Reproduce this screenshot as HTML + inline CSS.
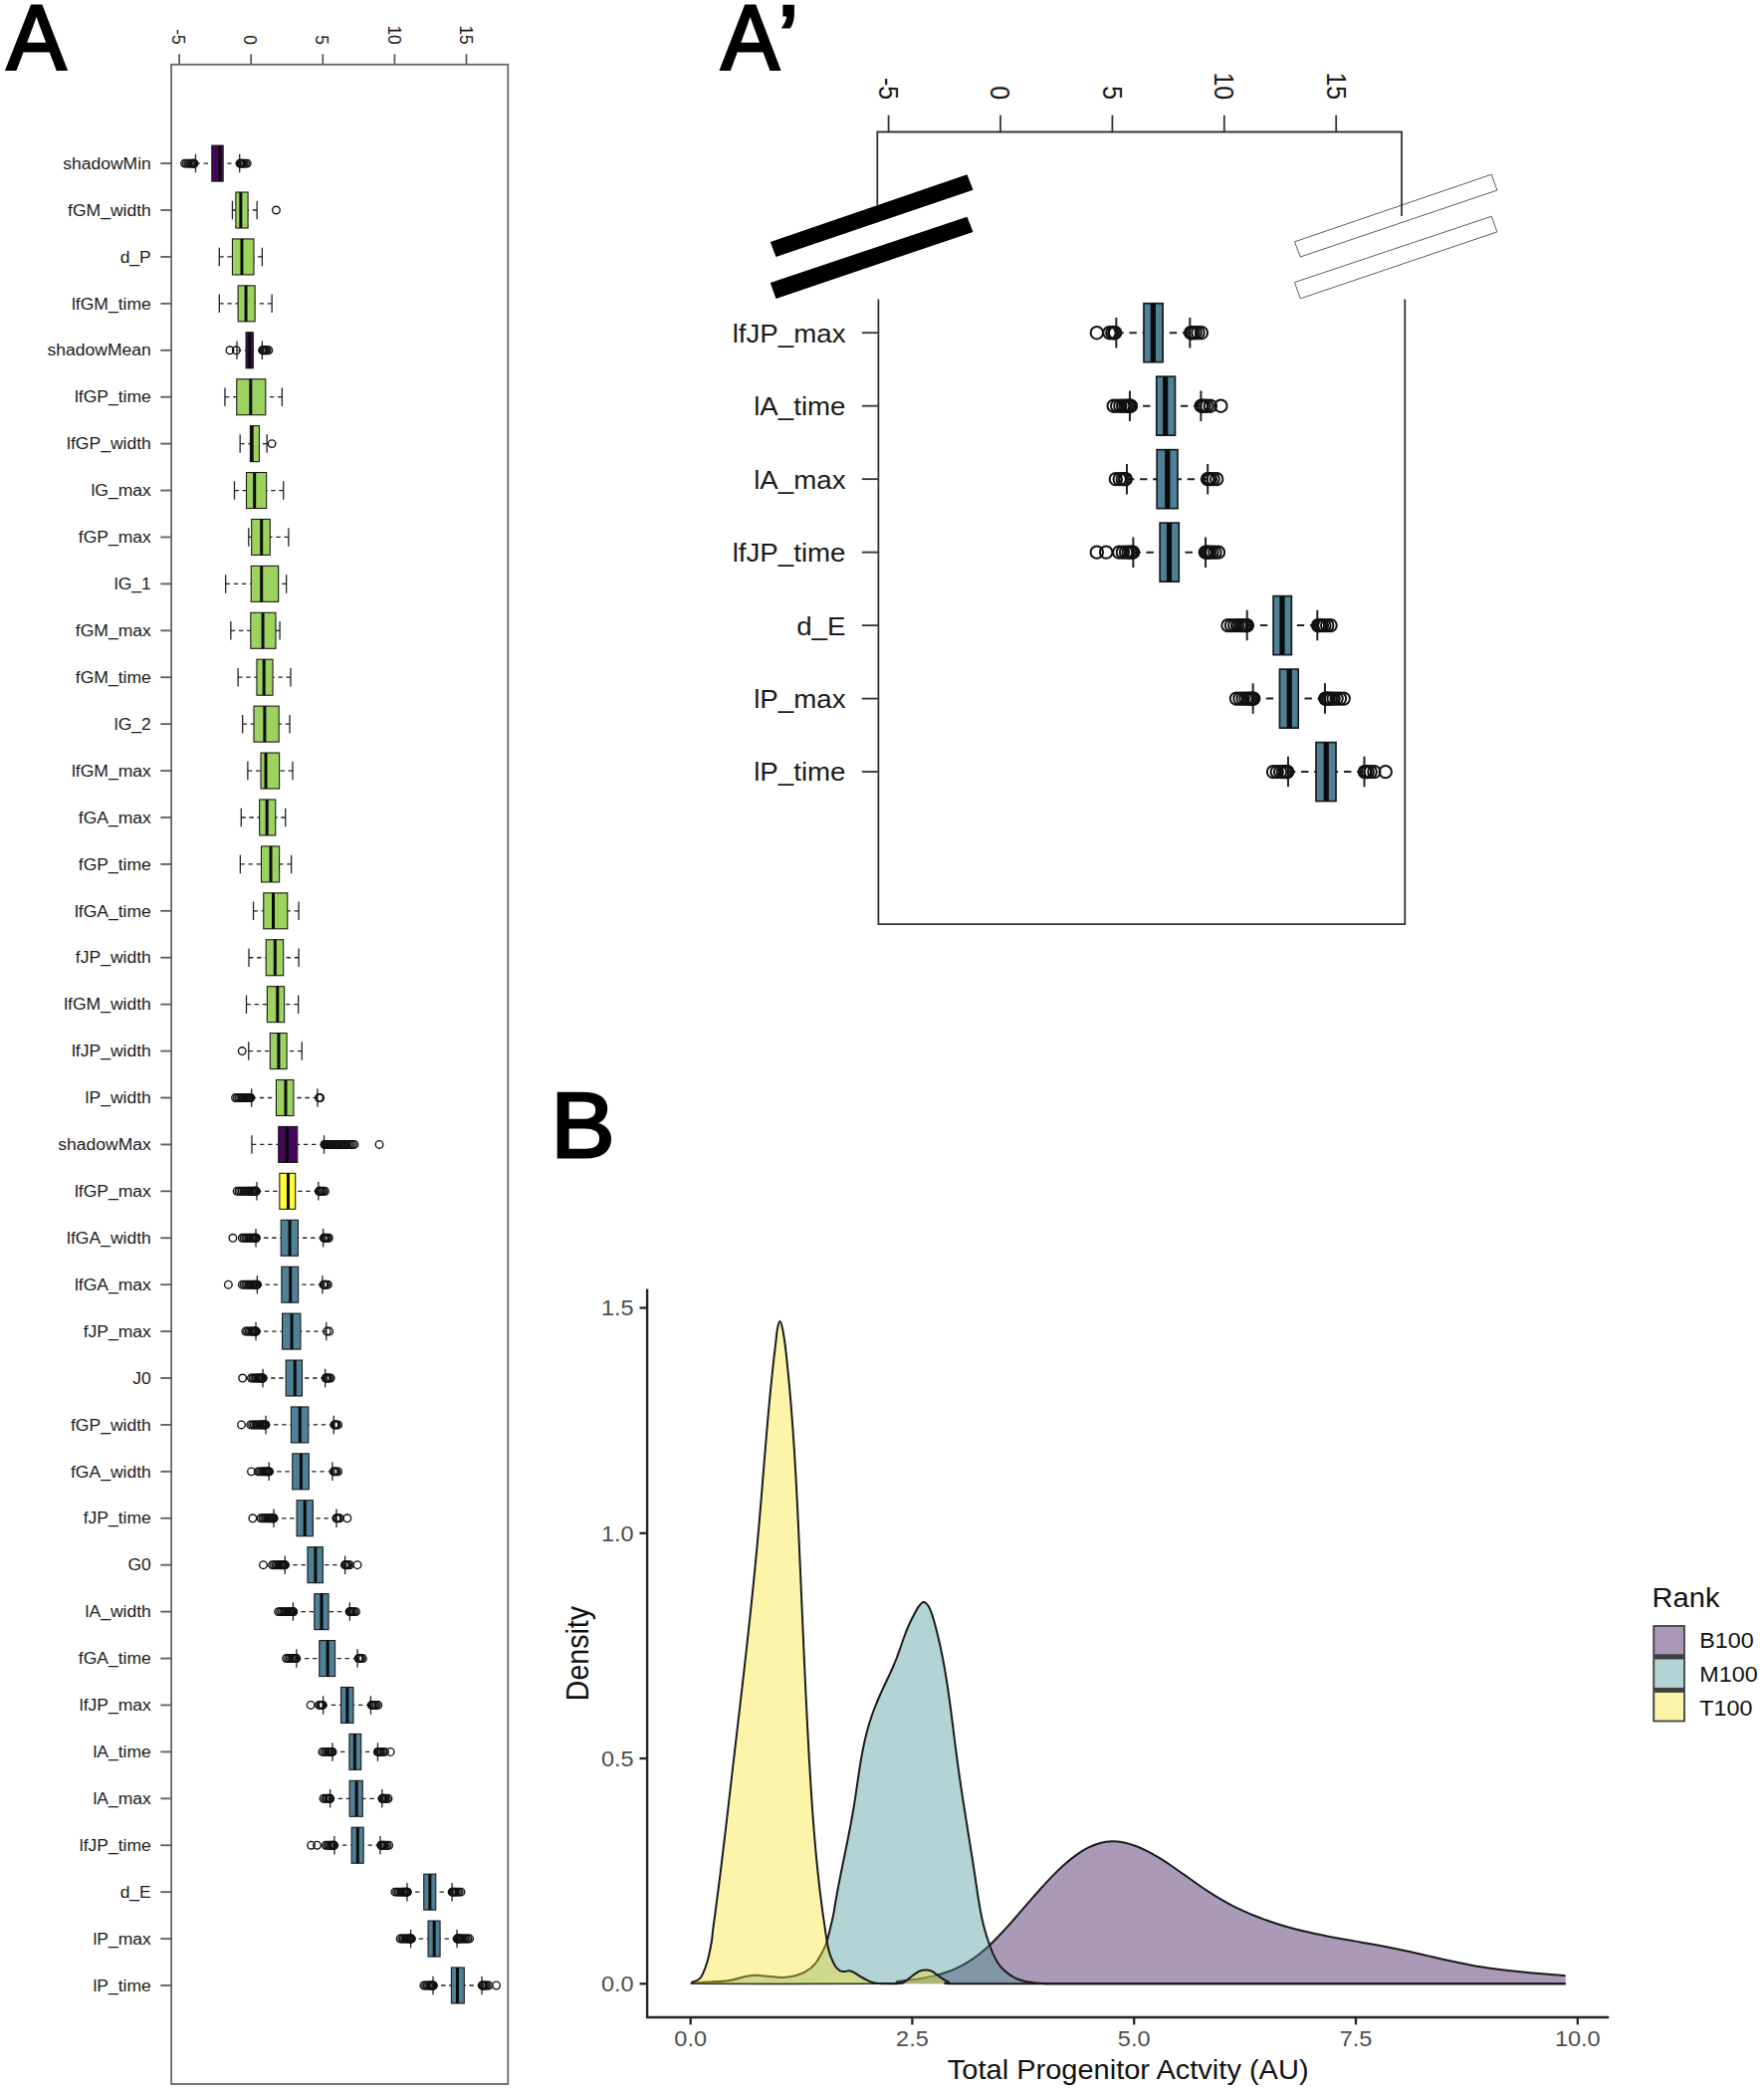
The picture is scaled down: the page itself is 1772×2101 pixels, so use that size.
<!DOCTYPE html>
<html lang="en">
<head>
<meta charset="utf-8">
<title>Figure</title>
<style>
html,body{margin:0;padding:0;background:#fff;}
body{width:1772px;height:2101px;overflow:hidden;}
svg{display:block;font-family:"Liberation Sans", sans-serif;}
</style>
</head>
<body>
<svg width="1772" height="2101" viewBox="0 0 1772 2101">
<rect width="1772" height="2101" fill="#fff"/>
<g id="panelA">
<rect x="172.1" y="64.8" width="338.2" height="2028.2" fill="none" stroke="#666" stroke-width="1.8"/>
<path d="M180.1 54.3V64.8" stroke="#5c5c5c" stroke-width="1.8"/>
<text transform="translate(173.2 44.8) rotate(90) scale(1 1.07)" text-anchor="end" font-size="17.4" fill="#1a1a1a">-5</text>
<path d="M252.2 54.3V64.8" stroke="#5c5c5c" stroke-width="1.8"/>
<text transform="translate(245.3 44.8) rotate(90) scale(1 1.07)" text-anchor="end" font-size="17.4" fill="#1a1a1a">0</text>
<path d="M324.3 54.3V64.8" stroke="#5c5c5c" stroke-width="1.8"/>
<text transform="translate(317.4 44.8) rotate(90) scale(1 1.07)" text-anchor="end" font-size="17.4" fill="#1a1a1a">5</text>
<path d="M396.4 54.3V64.8" stroke="#5c5c5c" stroke-width="1.8"/>
<text transform="translate(389.5 44.8) rotate(90) scale(1 1.07)" text-anchor="end" font-size="17.4" fill="#1a1a1a">10</text>
<path d="M468.5 54.3V64.8" stroke="#5c5c5c" stroke-width="1.8"/>
<text transform="translate(461.6 44.8) rotate(90) scale(1 1.07)" text-anchor="end" font-size="17.4" fill="#1a1a1a">15</text>
<path d="M161.3 164.1H172.1" stroke="#5c5c5c" stroke-width="1.8"/>
<text transform="translate(151.8 169.8) scale(1.124 1)" text-anchor="end" font-size="15.6" fill="#1a1a1a">shadowMin</text>
<path d="M196.49 164.1H212.81M240.7 164.1H224.15" stroke="#222" stroke-width="1.3" stroke-dasharray="4.4 3.7" fill="none"/><path d="M196.49 154.85V173.35M240.7 154.85V173.35" stroke="#222" stroke-width="1.3" fill="none"/><rect x="212.81" y="146.1" width="11.34" height="36" fill="#43065A" stroke="#1a1a1a" stroke-width="1.1"/><path d="M220.75 146.1V182.1" stroke="#0a0a0a" stroke-width="3" fill="none"/><g fill="none" stroke="#111" stroke-width="1.35"><circle cx="194.95" cy="164.1" r="3.8"/><circle cx="194.73" cy="164.1" r="3.8"/><circle cx="194.22" cy="164.1" r="3.8"/><circle cx="193.5" cy="164.1" r="3.8"/><circle cx="192.58" cy="164.1" r="3.8"/><circle cx="191.49" cy="164.1" r="3.8"/><circle cx="190.23" cy="164.1" r="3.8"/><circle cx="188.82" cy="164.1" r="3.8"/><circle cx="187.25" cy="164.1" r="3.8"/><circle cx="185.55" cy="164.1" r="3.8"/><circle cx="241.1" cy="164.1" r="3.8"/><circle cx="241.36" cy="164.1" r="3.8"/><circle cx="241.95" cy="164.1" r="3.8"/><circle cx="242.79" cy="164.1" r="3.8"/><circle cx="243.86" cy="164.1" r="3.8"/><circle cx="245.13" cy="164.1" r="3.8"/><circle cx="246.59" cy="164.1" r="3.8"/><circle cx="248.24" cy="164.1" r="3.8"/></g>
<path d="M161.3 211.02H172.1" stroke="#5c5c5c" stroke-width="1.8"/>
<text transform="translate(151.8 216.72) scale(1.124 1)" text-anchor="end" font-size="15.6" fill="#1a1a1a">fGM_width</text>
<path d="M233.45 211.02H236.85M258.16 211.02H249.09" stroke="#222" stroke-width="1.3" stroke-dasharray="4.4 3.7" fill="none"/><path d="M233.45 201.77V220.27M258.16 201.77V220.27" stroke="#222" stroke-width="1.3" fill="none"/><rect x="236.85" y="193.02" width="12.24" height="36" fill="#9CD25E" stroke="#1a1a1a" stroke-width="1.1"/><path d="M241.84 193.02V229.02" stroke="#0a0a0a" stroke-width="3" fill="none"/><g fill="none" stroke="#111" stroke-width="1.35"><circle cx="277.44" cy="211.02" r="3.8"/></g>
<path d="M161.3 257.94H172.1" stroke="#5c5c5c" stroke-width="1.8"/>
<text transform="translate(151.8 263.64) scale(1.124 1)" text-anchor="end" font-size="15.6" fill="#1a1a1a">d_P</text>
<path d="M220.29 257.94H233.45M263.38 257.94H254.99" stroke="#222" stroke-width="1.3" stroke-dasharray="4.4 3.7" fill="none"/><path d="M220.29 248.69V267.19M263.38 248.69V267.19" stroke="#222" stroke-width="1.3" fill="none"/><rect x="233.45" y="239.94" width="21.54" height="36" fill="#9CD25E" stroke="#1a1a1a" stroke-width="1.1"/><path d="M242.97 239.94V275.94" stroke="#0a0a0a" stroke-width="3" fill="none"/>
<path d="M161.3 304.86H172.1" stroke="#5c5c5c" stroke-width="1.8"/>
<text transform="translate(151.8 310.56) scale(1.124 1)" text-anchor="end" font-size="15.6" fill="#1a1a1a">lfGM_time</text>
<path d="M220.29 304.86H239.12M273.13 304.86H256.12" stroke="#222" stroke-width="1.3" stroke-dasharray="4.4 3.7" fill="none"/><path d="M220.29 295.61V314.11M273.13 295.61V314.11" stroke="#222" stroke-width="1.3" fill="none"/><rect x="239.12" y="286.86" width="17.01" height="36" fill="#9CD25E" stroke="#1a1a1a" stroke-width="1.1"/><path d="M247.05 286.86V322.86" stroke="#0a0a0a" stroke-width="3" fill="none"/>
<path d="M161.3 351.78H172.1" stroke="#5c5c5c" stroke-width="1.8"/>
<text transform="translate(151.8 357.48) scale(1.124 1)" text-anchor="end" font-size="15.6" fill="#1a1a1a">shadowMean</text>
<path d="M237.98 351.78H247.05M263.38 351.78H254.31" stroke="#222" stroke-width="1.3" stroke-dasharray="4.4 3.7" fill="none"/><path d="M237.98 342.53V361.03M263.38 342.53V361.03" stroke="#222" stroke-width="1.3" fill="none"/><rect x="247.05" y="333.78" width="7.26" height="36" fill="#43065A" stroke="#1a1a1a" stroke-width="1.1"/><path d="M250.68 333.78V369.78" stroke="#0a0a0a" stroke-width="3" fill="none"/><g fill="none" stroke="#111" stroke-width="1.35"><circle cx="263.78" cy="351.78" r="3.8"/><circle cx="264.06" cy="351.78" r="3.8"/><circle cx="264.71" cy="351.78" r="3.8"/><circle cx="265.63" cy="351.78" r="3.8"/><circle cx="266.79" cy="351.78" r="3.8"/><circle cx="268.18" cy="351.78" r="3.8"/><circle cx="269.78" cy="351.78" r="3.8"/><circle cx="230.95" cy="351.78" r="3.8"/><circle cx="237.3" cy="351.78" r="3.8"/></g>
<path d="M161.3 398.7H172.1" stroke="#5c5c5c" stroke-width="1.8"/>
<text transform="translate(151.8 404.4) scale(1.124 1)" text-anchor="end" font-size="15.6" fill="#1a1a1a">lfGP_time</text>
<path d="M225.96 398.7H237.76M283.33 398.7H266.78" stroke="#222" stroke-width="1.3" stroke-dasharray="4.4 3.7" fill="none"/><path d="M225.96 389.45V407.95M283.33 389.45V407.95" stroke="#222" stroke-width="1.3" fill="none"/><rect x="237.76" y="380.7" width="29.02" height="36" fill="#9CD25E" stroke="#1a1a1a" stroke-width="1.1"/><path d="M251.81 380.7V416.7" stroke="#0a0a0a" stroke-width="3" fill="none"/>
<path d="M161.3 445.62H172.1" stroke="#5c5c5c" stroke-width="1.8"/>
<text transform="translate(151.8 451.32) scale(1.124 1)" text-anchor="end" font-size="15.6" fill="#1a1a1a">lfGP_width</text>
<path d="M241.16 445.62H251.36M268.14 445.62H260.43" stroke="#222" stroke-width="1.3" stroke-dasharray="4.4 3.7" fill="none"/><path d="M241.16 436.37V454.87M268.14 436.37V454.87" stroke="#222" stroke-width="1.3" fill="none"/><rect x="251.36" y="427.62" width="9.07" height="36" fill="#9CD25E" stroke="#1a1a1a" stroke-width="1.1"/><path d="M253.17 427.62V463.62" stroke="#0a0a0a" stroke-width="3" fill="none"/><g fill="none" stroke="#111" stroke-width="1.35"><circle cx="273.13" cy="445.62" r="3.8"/></g>
<path d="M161.3 492.54H172.1" stroke="#5c5c5c" stroke-width="1.8"/>
<text transform="translate(151.8 498.24) scale(1.124 1)" text-anchor="end" font-size="15.6" fill="#1a1a1a">lG_max</text>
<path d="M235.49 492.54H247.51M284.69 492.54H267.69" stroke="#222" stroke-width="1.3" stroke-dasharray="4.4 3.7" fill="none"/><path d="M235.49 483.29V501.79M284.69 483.29V501.79" stroke="#222" stroke-width="1.3" fill="none"/><rect x="247.51" y="474.54" width="20.18" height="36" fill="#9CD25E" stroke="#1a1a1a" stroke-width="1.1"/><path d="M255.67 474.54V510.54" stroke="#0a0a0a" stroke-width="3" fill="none"/>
<path d="M161.3 539.46H172.1" stroke="#5c5c5c" stroke-width="1.8"/>
<text transform="translate(151.8 545.16) scale(1.124 1)" text-anchor="end" font-size="15.6" fill="#1a1a1a">fGP_max</text>
<path d="M249.77 539.46H252.72M289.91 539.46H271.32" stroke="#222" stroke-width="1.3" stroke-dasharray="4.4 3.7" fill="none"/><path d="M249.77 530.21V548.71M289.91 530.21V548.71" stroke="#222" stroke-width="1.3" fill="none"/><rect x="252.72" y="521.46" width="18.59" height="36" fill="#9CD25E" stroke="#1a1a1a" stroke-width="1.1"/><path d="M262.7 521.46V557.46" stroke="#0a0a0a" stroke-width="3" fill="none"/>
<path d="M161.3 586.38H172.1" stroke="#5c5c5c" stroke-width="1.8"/>
<text transform="translate(151.8 592.08) scale(1.124 1)" text-anchor="end" font-size="15.6" fill="#1a1a1a">lG_1</text>
<path d="M226.64 586.38H252.27M287.64 586.38H279.71" stroke="#222" stroke-width="1.3" stroke-dasharray="4.4 3.7" fill="none"/><path d="M226.64 577.13V595.63M287.64 577.13V595.63" stroke="#222" stroke-width="1.3" fill="none"/><rect x="252.27" y="568.38" width="27.44" height="36" fill="#9CD25E" stroke="#1a1a1a" stroke-width="1.1"/><path d="M262.7 568.38V604.38" stroke="#0a0a0a" stroke-width="3" fill="none"/>
<path d="M161.3 633.3H172.1" stroke="#5c5c5c" stroke-width="1.8"/>
<text transform="translate(151.8 639) scale(1.124 1)" text-anchor="end" font-size="15.6" fill="#1a1a1a">fGM_max</text>
<path d="M231.86 633.3H251.81M281.07 633.3H276.98" stroke="#222" stroke-width="1.3" stroke-dasharray="4.4 3.7" fill="none"/><path d="M231.86 624.05V642.55M281.07 624.05V642.55" stroke="#222" stroke-width="1.3" fill="none"/><rect x="251.81" y="615.3" width="25.17" height="36" fill="#9CD25E" stroke="#1a1a1a" stroke-width="1.1"/><path d="M264.06 615.3V651.3" stroke="#0a0a0a" stroke-width="3" fill="none"/>
<path d="M161.3 680.22H172.1" stroke="#5c5c5c" stroke-width="1.8"/>
<text transform="translate(151.8 685.92) scale(1.124 1)" text-anchor="end" font-size="15.6" fill="#1a1a1a">fGM_time</text>
<path d="M239.12 680.22H257.94M291.95 680.22H274.04" stroke="#222" stroke-width="1.3" stroke-dasharray="4.4 3.7" fill="none"/><path d="M239.12 670.97V689.47M291.95 670.97V689.47" stroke="#222" stroke-width="1.3" fill="none"/><rect x="257.94" y="662.22" width="16.1" height="36" fill="#9CD25E" stroke="#1a1a1a" stroke-width="1.1"/><path d="M265.19 662.22V698.22" stroke="#0a0a0a" stroke-width="3" fill="none"/>
<path d="M161.3 727.14H172.1" stroke="#5c5c5c" stroke-width="1.8"/>
<text transform="translate(151.8 732.84) scale(1.124 1)" text-anchor="end" font-size="15.6" fill="#1a1a1a">lG_2</text>
<path d="M243.65 727.14H254.99M291.04 727.14H280.16" stroke="#222" stroke-width="1.3" stroke-dasharray="4.4 3.7" fill="none"/><path d="M243.65 717.89V736.39M291.04 717.89V736.39" stroke="#222" stroke-width="1.3" fill="none"/><rect x="254.99" y="709.14" width="25.17" height="36" fill="#9CD25E" stroke="#1a1a1a" stroke-width="1.1"/><path d="M265.87 709.14V745.14" stroke="#0a0a0a" stroke-width="3" fill="none"/>
<path d="M161.3 774.06H172.1" stroke="#5c5c5c" stroke-width="1.8"/>
<text transform="translate(151.8 779.76) scale(1.124 1)" text-anchor="end" font-size="15.6" fill="#1a1a1a">lfGM_max</text>
<path d="M248.87 774.06H262.02M293.99 774.06H280.61" stroke="#222" stroke-width="1.3" stroke-dasharray="4.4 3.7" fill="none"/><path d="M248.87 764.81V783.31M293.99 764.81V783.31" stroke="#222" stroke-width="1.3" fill="none"/><rect x="262.02" y="756.06" width="18.59" height="36" fill="#9CD25E" stroke="#1a1a1a" stroke-width="1.1"/><path d="M267.01 756.06V792.06" stroke="#0a0a0a" stroke-width="3" fill="none"/>
<path d="M161.3 820.98H172.1" stroke="#5c5c5c" stroke-width="1.8"/>
<text transform="translate(151.8 826.68) scale(1.124 1)" text-anchor="end" font-size="15.6" fill="#1a1a1a">fGA_max</text>
<path d="M242.29 820.98H260.66M286.73 820.98H276.76" stroke="#222" stroke-width="1.3" stroke-dasharray="4.4 3.7" fill="none"/><path d="M242.29 811.73V830.23M286.73 811.73V830.23" stroke="#222" stroke-width="1.3" fill="none"/><rect x="260.66" y="802.98" width="16.1" height="36" fill="#9CD25E" stroke="#1a1a1a" stroke-width="1.1"/><path d="M268.14 802.98V838.98" stroke="#0a0a0a" stroke-width="3" fill="none"/>
<path d="M161.3 867.9H172.1" stroke="#5c5c5c" stroke-width="1.8"/>
<text transform="translate(151.8 873.6) scale(1.124 1)" text-anchor="end" font-size="15.6" fill="#1a1a1a">fGP_time</text>
<path d="M241.38 867.9H262.47M292.63 867.9H280.61" stroke="#222" stroke-width="1.3" stroke-dasharray="4.4 3.7" fill="none"/><path d="M241.38 858.65V877.15M292.63 858.65V877.15" stroke="#222" stroke-width="1.3" fill="none"/><rect x="262.47" y="849.9" width="18.14" height="36" fill="#9CD25E" stroke="#1a1a1a" stroke-width="1.1"/><path d="M272 849.9V885.9" stroke="#0a0a0a" stroke-width="3" fill="none"/>
<path d="M161.3 914.82H172.1" stroke="#5c5c5c" stroke-width="1.8"/>
<text transform="translate(151.8 920.52) scale(1.124 1)" text-anchor="end" font-size="15.6" fill="#1a1a1a">lfGA_time</text>
<path d="M254.54 914.82H264.74M300.11 914.82H288.78" stroke="#222" stroke-width="1.3" stroke-dasharray="4.4 3.7" fill="none"/><path d="M254.54 905.57V924.07M300.11 905.57V924.07" stroke="#222" stroke-width="1.3" fill="none"/><rect x="264.74" y="896.82" width="24.04" height="36" fill="#9CD25E" stroke="#1a1a1a" stroke-width="1.1"/><path d="M274.49 896.82V932.82" stroke="#0a0a0a" stroke-width="3" fill="none"/>
<path d="M161.3 961.74H172.1" stroke="#5c5c5c" stroke-width="1.8"/>
<text transform="translate(151.8 967.44) scale(1.124 1)" text-anchor="end" font-size="15.6" fill="#1a1a1a">fJP_width</text>
<path d="M250 961.74H267.23M300.11 961.74H284.69" stroke="#222" stroke-width="1.3" stroke-dasharray="4.4 3.7" fill="none"/><path d="M250 952.49V970.99M300.11 952.49V970.99" stroke="#222" stroke-width="1.3" fill="none"/><rect x="267.23" y="943.74" width="17.46" height="36" fill="#9CD25E" stroke="#1a1a1a" stroke-width="1.1"/><path d="M276.3 943.74V979.74" stroke="#0a0a0a" stroke-width="3" fill="none"/>
<path d="M161.3 1008.66H172.1" stroke="#5c5c5c" stroke-width="1.8"/>
<text transform="translate(151.8 1014.36) scale(1.124 1)" text-anchor="end" font-size="15.6" fill="#1a1a1a">lfGM_width</text>
<path d="M247.51 1008.66H268.37M299.66 1008.66H285.6" stroke="#222" stroke-width="1.3" stroke-dasharray="4.4 3.7" fill="none"/><path d="M247.51 999.41V1017.91M299.66 999.41V1017.91" stroke="#222" stroke-width="1.3" fill="none"/><rect x="268.37" y="990.66" width="17.23" height="36" fill="#9CD25E" stroke="#1a1a1a" stroke-width="1.1"/><path d="M278.8 990.66V1026.66" stroke="#0a0a0a" stroke-width="3" fill="none"/>
<path d="M161.3 1055.58H172.1" stroke="#5c5c5c" stroke-width="1.8"/>
<text transform="translate(151.8 1061.28) scale(1.124 1)" text-anchor="end" font-size="15.6" fill="#1a1a1a">lfJP_width</text>
<path d="M249.77 1055.58H271.32M303.29 1055.58H288.1" stroke="#222" stroke-width="1.3" stroke-dasharray="4.4 3.7" fill="none"/><path d="M249.77 1046.33V1064.83M303.29 1046.33V1064.83" stroke="#222" stroke-width="1.3" fill="none"/><rect x="271.32" y="1037.58" width="16.78" height="36" fill="#9CD25E" stroke="#1a1a1a" stroke-width="1.1"/><path d="M279.93 1037.58V1073.58" stroke="#0a0a0a" stroke-width="3" fill="none"/><g fill="none" stroke="#111" stroke-width="1.35"><circle cx="243.2" cy="1055.58" r="3.8"/></g>
<path d="M161.3 1102.5H172.1" stroke="#5c5c5c" stroke-width="1.8"/>
<text transform="translate(151.8 1108.2) scale(1.124 1)" text-anchor="end" font-size="15.6" fill="#1a1a1a">lP_width</text>
<path d="M252.72 1102.5H277.44M318.93 1102.5H294.9" stroke="#222" stroke-width="1.3" stroke-dasharray="4.4 3.7" fill="none"/><path d="M252.72 1093.25V1111.75M318.93 1093.25V1111.75" stroke="#222" stroke-width="1.3" fill="none"/><rect x="277.44" y="1084.5" width="17.46" height="36" fill="#9CD25E" stroke="#1a1a1a" stroke-width="1.1"/><path d="M286.96 1084.5V1120.5" stroke="#0a0a0a" stroke-width="3" fill="none"/><g fill="none" stroke="#111" stroke-width="1.35"><circle cx="251.64" cy="1102.5" r="3.8"/><circle cx="251.47" cy="1102.5" r="3.8"/><circle cx="251.09" cy="1102.5" r="3.8"/><circle cx="250.54" cy="1102.5" r="3.8"/><circle cx="249.85" cy="1102.5" r="3.8"/><circle cx="249.02" cy="1102.5" r="3.8"/><circle cx="248.07" cy="1102.5" r="3.8"/><circle cx="247" cy="1102.5" r="3.8"/><circle cx="245.82" cy="1102.5" r="3.8"/><circle cx="244.53" cy="1102.5" r="3.8"/><circle cx="243.13" cy="1102.5" r="3.8"/><circle cx="241.64" cy="1102.5" r="3.8"/><circle cx="240.04" cy="1102.5" r="3.8"/><circle cx="238.35" cy="1102.5" r="3.8"/><circle cx="236.57" cy="1102.5" r="3.8"/><circle cx="320.52" cy="1102.5" r="3.8"/><circle cx="321.66" cy="1102.5" r="3.8"/></g>
<path d="M161.3 1149.42H172.1" stroke="#5c5c5c" stroke-width="1.8"/>
<text transform="translate(151.8 1155.12) scale(1.124 1)" text-anchor="end" font-size="15.6" fill="#1a1a1a">shadowMax</text>
<path d="M252.95 1149.42H279.71M325.51 1149.42H298.75" stroke="#222" stroke-width="1.3" stroke-dasharray="4.4 3.7" fill="none"/><path d="M252.95 1140.17V1158.67M325.51 1140.17V1158.67" stroke="#222" stroke-width="1.3" fill="none"/><rect x="279.71" y="1131.42" width="19.05" height="36" fill="#43065A" stroke="#1a1a1a" stroke-width="1.1"/><path d="M288.32 1131.42V1167.42" stroke="#0a0a0a" stroke-width="3" fill="none"/><g fill="none" stroke="#111" stroke-width="1.35"><circle cx="326.14" cy="1149.42" r="3.8"/><circle cx="326.24" cy="1149.42" r="3.8"/><circle cx="326.47" cy="1149.42" r="3.8"/><circle cx="326.8" cy="1149.42" r="3.8"/><circle cx="327.23" cy="1149.42" r="3.8"/><circle cx="327.73" cy="1149.42" r="3.8"/><circle cx="328.31" cy="1149.42" r="3.8"/><circle cx="328.96" cy="1149.42" r="3.8"/><circle cx="329.68" cy="1149.42" r="3.8"/><circle cx="330.47" cy="1149.42" r="3.8"/><circle cx="331.31" cy="1149.42" r="3.8"/><circle cx="332.23" cy="1149.42" r="3.8"/><circle cx="333.2" cy="1149.42" r="3.8"/><circle cx="334.23" cy="1149.42" r="3.8"/><circle cx="335.31" cy="1149.42" r="3.8"/><circle cx="336.45" cy="1149.42" r="3.8"/><circle cx="337.65" cy="1149.42" r="3.8"/><circle cx="338.9" cy="1149.42" r="3.8"/><circle cx="340.2" cy="1149.42" r="3.8"/><circle cx="341.56" cy="1149.42" r="3.8"/><circle cx="342.96" cy="1149.42" r="3.8"/><circle cx="344.42" cy="1149.42" r="3.8"/><circle cx="345.92" cy="1149.42" r="3.8"/><circle cx="347.48" cy="1149.42" r="3.8"/><circle cx="349.08" cy="1149.42" r="3.8"/><circle cx="350.73" cy="1149.42" r="3.8"/><circle cx="352.42" cy="1149.42" r="3.8"/><circle cx="354.16" cy="1149.42" r="3.8"/><circle cx="355.95" cy="1149.42" r="3.8"/><circle cx="381.07" cy="1149.42" r="3.8"/></g>
<path d="M161.3 1196.34H172.1" stroke="#5c5c5c" stroke-width="1.8"/>
<text transform="translate(151.8 1202.04) scale(1.124 1)" text-anchor="end" font-size="15.6" fill="#1a1a1a">lfGP_max</text>
<path d="M257.94 1196.34H280.84M319.84 1196.34H296.71" stroke="#222" stroke-width="1.3" stroke-dasharray="4.4 3.7" fill="none"/><path d="M257.94 1187.09V1205.59M319.84 1187.09V1205.59" stroke="#222" stroke-width="1.3" fill="none"/><rect x="280.84" y="1178.34" width="15.87" height="36" fill="#FEFE3D" stroke="#1a1a1a" stroke-width="1.1"/><path d="M289.46 1178.34V1214.34" stroke="#0a0a0a" stroke-width="3" fill="none"/><g fill="none" stroke="#111" stroke-width="1.35"><circle cx="257.31" cy="1196.34" r="3.8"/><circle cx="257.17" cy="1196.34" r="3.8"/><circle cx="256.85" cy="1196.34" r="3.8"/><circle cx="256.4" cy="1196.34" r="3.8"/><circle cx="255.83" cy="1196.34" r="3.8"/><circle cx="255.14" cy="1196.34" r="3.8"/><circle cx="254.35" cy="1196.34" r="3.8"/><circle cx="253.46" cy="1196.34" r="3.8"/><circle cx="252.48" cy="1196.34" r="3.8"/><circle cx="251.41" cy="1196.34" r="3.8"/><circle cx="250.26" cy="1196.34" r="3.8"/><circle cx="249.02" cy="1196.34" r="3.8"/><circle cx="247.7" cy="1196.34" r="3.8"/><circle cx="246.29" cy="1196.34" r="3.8"/><circle cx="244.81" cy="1196.34" r="3.8"/><circle cx="243.26" cy="1196.34" r="3.8"/><circle cx="241.63" cy="1196.34" r="3.8"/><circle cx="239.93" cy="1196.34" r="3.8"/><circle cx="238.15" cy="1196.34" r="3.8"/><circle cx="320.47" cy="1196.34" r="3.8"/><circle cx="320.75" cy="1196.34" r="3.8"/><circle cx="321.39" cy="1196.34" r="3.8"/><circle cx="322.32" cy="1196.34" r="3.8"/><circle cx="323.48" cy="1196.34" r="3.8"/><circle cx="324.87" cy="1196.34" r="3.8"/><circle cx="326.47" cy="1196.34" r="3.8"/></g>
<path d="M161.3 1243.26H172.1" stroke="#5c5c5c" stroke-width="1.8"/>
<text transform="translate(151.8 1248.96) scale(1.124 1)" text-anchor="end" font-size="15.6" fill="#1a1a1a">lfGA_width</text>
<path d="M257.03 1243.26H282.2M324.6 1243.26H299.43" stroke="#222" stroke-width="1.3" stroke-dasharray="4.4 3.7" fill="none"/><path d="M257.03 1234.01V1252.51M324.6 1234.01V1252.51" stroke="#222" stroke-width="1.3" fill="none"/><rect x="282.2" y="1225.26" width="17.23" height="36" fill="#4E8097" stroke="#1a1a1a" stroke-width="1.1"/><path d="M291.04 1225.26V1261.26" stroke="#0a0a0a" stroke-width="3" fill="none"/><g fill="none" stroke="#111" stroke-width="1.35"><circle cx="257.31" cy="1243.26" r="3.8"/><circle cx="257.13" cy="1243.26" r="3.8"/><circle cx="256.73" cy="1243.26" r="3.8"/><circle cx="256.16" cy="1243.26" r="3.8"/><circle cx="255.43" cy="1243.26" r="3.8"/><circle cx="254.56" cy="1243.26" r="3.8"/><circle cx="253.57" cy="1243.26" r="3.8"/><circle cx="252.44" cy="1243.26" r="3.8"/><circle cx="251.2" cy="1243.26" r="3.8"/><circle cx="249.85" cy="1243.26" r="3.8"/><circle cx="248.39" cy="1243.26" r="3.8"/><circle cx="246.82" cy="1243.26" r="3.8"/><circle cx="245.14" cy="1243.26" r="3.8"/><circle cx="243.37" cy="1243.26" r="3.8"/><circle cx="325.46" cy="1243.26" r="3.8"/><circle cx="325.77" cy="1243.26" r="3.8"/><circle cx="326.48" cy="1243.26" r="3.8"/><circle cx="327.5" cy="1243.26" r="3.8"/><circle cx="328.79" cy="1243.26" r="3.8"/><circle cx="330.33" cy="1243.26" r="3.8"/><circle cx="233.9" cy="1243.26" r="3.8"/></g>
<path d="M161.3 1290.18H172.1" stroke="#5c5c5c" stroke-width="1.8"/>
<text transform="translate(151.8 1295.88) scale(1.124 1)" text-anchor="end" font-size="15.6" fill="#1a1a1a">lfGA_max</text>
<path d="M258.39 1290.18H282.88M323.92 1290.18H299.66" stroke="#222" stroke-width="1.3" stroke-dasharray="4.4 3.7" fill="none"/><path d="M258.39 1280.93V1299.43M323.92 1280.93V1299.43" stroke="#222" stroke-width="1.3" fill="none"/><rect x="282.88" y="1272.18" width="16.78" height="36" fill="#4E8097" stroke="#1a1a1a" stroke-width="1.1"/><path d="M291.72 1272.18V1308.18" stroke="#0a0a0a" stroke-width="3" fill="none"/><g fill="none" stroke="#111" stroke-width="1.35"><circle cx="258.44" cy="1290.18" r="3.8"/><circle cx="258.28" cy="1290.18" r="3.8"/><circle cx="257.89" cy="1290.18" r="3.8"/><circle cx="257.35" cy="1290.18" r="3.8"/><circle cx="256.65" cy="1290.18" r="3.8"/><circle cx="255.83" cy="1290.18" r="3.8"/><circle cx="254.87" cy="1290.18" r="3.8"/><circle cx="253.8" cy="1290.18" r="3.8"/><circle cx="252.62" cy="1290.18" r="3.8"/><circle cx="251.33" cy="1290.18" r="3.8"/><circle cx="249.94" cy="1290.18" r="3.8"/><circle cx="248.44" cy="1290.18" r="3.8"/><circle cx="246.84" cy="1290.18" r="3.8"/><circle cx="245.15" cy="1290.18" r="3.8"/><circle cx="243.37" cy="1290.18" r="3.8"/><circle cx="325" cy="1290.18" r="3.8"/><circle cx="325.42" cy="1290.18" r="3.8"/><circle cx="326.36" cy="1290.18" r="3.8"/><circle cx="327.71" cy="1290.18" r="3.8"/><circle cx="329.42" cy="1290.18" r="3.8"/><circle cx="229.37" cy="1290.18" r="3.8"/></g>
<path d="M161.3 1337.1H172.1" stroke="#5c5c5c" stroke-width="1.8"/>
<text transform="translate(151.8 1342.8) scale(1.124 1)" text-anchor="end" font-size="15.6" fill="#1a1a1a">fJP_max</text>
<path d="M257.03 1337.1H283.56M327.78 1337.1H301.93" stroke="#222" stroke-width="1.3" stroke-dasharray="4.4 3.7" fill="none"/><path d="M257.03 1327.85V1346.35M327.78 1327.85V1346.35" stroke="#222" stroke-width="1.3" fill="none"/><rect x="283.56" y="1319.1" width="18.37" height="36" fill="#4E8097" stroke="#1a1a1a" stroke-width="1.1"/><path d="M293.08 1319.1V1355.1" stroke="#0a0a0a" stroke-width="3" fill="none"/><g fill="none" stroke="#111" stroke-width="1.35"><circle cx="257.31" cy="1337.1" r="3.8"/><circle cx="257.1" cy="1337.1" r="3.8"/><circle cx="256.63" cy="1337.1" r="3.8"/><circle cx="255.95" cy="1337.1" r="3.8"/><circle cx="255.09" cy="1337.1" r="3.8"/><circle cx="254.07" cy="1337.1" r="3.8"/><circle cx="252.89" cy="1337.1" r="3.8"/><circle cx="251.56" cy="1337.1" r="3.8"/><circle cx="250.1" cy="1337.1" r="3.8"/><circle cx="248.5" cy="1337.1" r="3.8"/><circle cx="246.77" cy="1337.1" r="3.8"/><circle cx="328.46" cy="1337.1" r="3.8"/><circle cx="330.73" cy="1337.1" r="3.8"/></g>
<path d="M161.3 1384.02H172.1" stroke="#5c5c5c" stroke-width="1.8"/>
<text transform="translate(151.8 1389.72) scale(1.124 1)" text-anchor="end" font-size="15.6" fill="#1a1a1a">J0</text>
<path d="M264.06 1384.02H287.19M326.64 1384.02H303.51" stroke="#222" stroke-width="1.3" stroke-dasharray="4.4 3.7" fill="none"/><path d="M264.06 1374.77V1393.27M326.64 1374.77V1393.27" stroke="#222" stroke-width="1.3" fill="none"/><rect x="287.19" y="1366.02" width="16.33" height="36" fill="#4E8097" stroke="#1a1a1a" stroke-width="1.1"/><path d="M296.26 1366.02V1402.02" stroke="#0a0a0a" stroke-width="3" fill="none"/><g fill="none" stroke="#111" stroke-width="1.35"><circle cx="264.11" cy="1384.02" r="3.8"/><circle cx="263.92" cy="1384.02" r="3.8"/><circle cx="263.47" cy="1384.02" r="3.8"/><circle cx="262.83" cy="1384.02" r="3.8"/><circle cx="262.02" cy="1384.02" r="3.8"/><circle cx="261.06" cy="1384.02" r="3.8"/><circle cx="259.95" cy="1384.02" r="3.8"/><circle cx="258.7" cy="1384.02" r="3.8"/><circle cx="257.32" cy="1384.02" r="3.8"/><circle cx="255.81" cy="1384.02" r="3.8"/><circle cx="254.19" cy="1384.02" r="3.8"/><circle cx="252.44" cy="1384.02" r="3.8"/><circle cx="327.27" cy="1384.02" r="3.8"/><circle cx="327.59" cy="1384.02" r="3.8"/><circle cx="328.3" cy="1384.02" r="3.8"/><circle cx="329.31" cy="1384.02" r="3.8"/><circle cx="330.6" cy="1384.02" r="3.8"/><circle cx="332.14" cy="1384.02" r="3.8"/><circle cx="243.65" cy="1384.02" r="3.8"/></g>
<path d="M161.3 1430.94H172.1" stroke="#5c5c5c" stroke-width="1.8"/>
<text transform="translate(151.8 1436.64) scale(1.124 1)" text-anchor="end" font-size="15.6" fill="#1a1a1a">fGP_width</text>
<path d="M267.01 1430.94H292.4M335.26 1430.94H309.86" stroke="#222" stroke-width="1.3" stroke-dasharray="4.4 3.7" fill="none"/><path d="M267.01 1421.69V1440.19M335.26 1421.69V1440.19" stroke="#222" stroke-width="1.3" fill="none"/><rect x="292.4" y="1412.94" width="17.46" height="36" fill="#4E8097" stroke="#1a1a1a" stroke-width="1.1"/><path d="M301.25 1412.94V1448.94" stroke="#0a0a0a" stroke-width="3" fill="none"/><g fill="none" stroke="#111" stroke-width="1.35"><circle cx="266.83" cy="1430.94" r="3.8"/><circle cx="266.67" cy="1430.94" r="3.8"/><circle cx="266.28" cy="1430.94" r="3.8"/><circle cx="265.74" cy="1430.94" r="3.8"/><circle cx="265.04" cy="1430.94" r="3.8"/><circle cx="264.22" cy="1430.94" r="3.8"/><circle cx="263.26" cy="1430.94" r="3.8"/><circle cx="262.19" cy="1430.94" r="3.8"/><circle cx="261.01" cy="1430.94" r="3.8"/><circle cx="259.72" cy="1430.94" r="3.8"/><circle cx="258.33" cy="1430.94" r="3.8"/><circle cx="256.83" cy="1430.94" r="3.8"/><circle cx="255.23" cy="1430.94" r="3.8"/><circle cx="253.54" cy="1430.94" r="3.8"/><circle cx="251.76" cy="1430.94" r="3.8"/><circle cx="335.89" cy="1430.94" r="3.8"/><circle cx="336.24" cy="1430.94" r="3.8"/><circle cx="337.04" cy="1430.94" r="3.8"/><circle cx="338.18" cy="1430.94" r="3.8"/><circle cx="339.62" cy="1430.94" r="3.8"/><circle cx="242.52" cy="1430.94" r="3.8"/></g>
<path d="M161.3 1477.86H172.1" stroke="#5c5c5c" stroke-width="1.8"/>
<text transform="translate(151.8 1483.56) scale(1.124 1)" text-anchor="end" font-size="15.6" fill="#1a1a1a">fGA_width</text>
<path d="M270.18 1477.86H293.76M333.9 1477.86H310.32" stroke="#222" stroke-width="1.3" stroke-dasharray="4.4 3.7" fill="none"/><path d="M270.18 1468.61V1487.11M333.9 1468.61V1487.11" stroke="#222" stroke-width="1.3" fill="none"/><rect x="293.76" y="1459.86" width="16.55" height="36" fill="#4E8097" stroke="#1a1a1a" stroke-width="1.1"/><path d="M302.38 1459.86V1495.86" stroke="#0a0a0a" stroke-width="3" fill="none"/><g fill="none" stroke="#111" stroke-width="1.35"><circle cx="270.46" cy="1477.86" r="3.8"/><circle cx="270.27" cy="1477.86" r="3.8"/><circle cx="269.84" cy="1477.86" r="3.8"/><circle cx="269.23" cy="1477.86" r="3.8"/><circle cx="268.45" cy="1477.86" r="3.8"/><circle cx="267.53" cy="1477.86" r="3.8"/><circle cx="266.46" cy="1477.86" r="3.8"/><circle cx="265.26" cy="1477.86" r="3.8"/><circle cx="263.93" cy="1477.86" r="3.8"/><circle cx="262.49" cy="1477.86" r="3.8"/><circle cx="260.92" cy="1477.86" r="3.8"/><circle cx="259.24" cy="1477.86" r="3.8"/><circle cx="335.21" cy="1477.86" r="3.8"/><circle cx="335.62" cy="1477.86" r="3.8"/><circle cx="336.57" cy="1477.86" r="3.8"/><circle cx="337.92" cy="1477.86" r="3.8"/><circle cx="339.62" cy="1477.86" r="3.8"/><circle cx="252.49" cy="1477.86" r="3.8"/></g>
<path d="M161.3 1524.78H172.1" stroke="#5c5c5c" stroke-width="1.8"/>
<text transform="translate(151.8 1530.48) scale(1.124 1)" text-anchor="end" font-size="15.6" fill="#1a1a1a">fJP_time</text>
<path d="M274.94 1524.78H298.07M337.98 1524.78H314.4" stroke="#222" stroke-width="1.3" stroke-dasharray="4.4 3.7" fill="none"/><path d="M274.94 1515.53V1534.03M337.98 1515.53V1534.03" stroke="#222" stroke-width="1.3" fill="none"/><rect x="298.07" y="1506.78" width="16.33" height="36" fill="#4E8097" stroke="#1a1a1a" stroke-width="1.1"/><path d="M306.24 1506.78V1542.78" stroke="#0a0a0a" stroke-width="3" fill="none"/><g fill="none" stroke="#111" stroke-width="1.35"><circle cx="275" cy="1524.78" r="3.8"/><circle cx="274.81" cy="1524.78" r="3.8"/><circle cx="274.39" cy="1524.78" r="3.8"/><circle cx="273.78" cy="1524.78" r="3.8"/><circle cx="273.02" cy="1524.78" r="3.8"/><circle cx="272.11" cy="1524.78" r="3.8"/><circle cx="271.06" cy="1524.78" r="3.8"/><circle cx="269.87" cy="1524.78" r="3.8"/><circle cx="268.57" cy="1524.78" r="3.8"/><circle cx="267.14" cy="1524.78" r="3.8"/><circle cx="265.6" cy="1524.78" r="3.8"/><circle cx="263.95" cy="1524.78" r="3.8"/><circle cx="262.19" cy="1524.78" r="3.8"/><circle cx="337.93" cy="1524.78" r="3.8"/><circle cx="338.43" cy="1524.78" r="3.8"/><circle cx="339.58" cy="1524.78" r="3.8"/><circle cx="341.21" cy="1524.78" r="3.8"/><circle cx="253.85" cy="1524.78" r="3.8"/><circle cx="348.87" cy="1524.78" r="3.8"/></g>
<path d="M161.3 1571.7H172.1" stroke="#5c5c5c" stroke-width="1.8"/>
<text transform="translate(151.8 1577.4) scale(1.124 1)" text-anchor="end" font-size="15.6" fill="#1a1a1a">G0</text>
<path d="M286.28 1571.7H308.96M346.6 1571.7H324.38" stroke="#222" stroke-width="1.3" stroke-dasharray="4.4 3.7" fill="none"/><path d="M286.28 1562.45V1580.95M346.6 1562.45V1580.95" stroke="#222" stroke-width="1.3" fill="none"/><rect x="308.96" y="1553.7" width="15.42" height="36" fill="#4E8097" stroke="#1a1a1a" stroke-width="1.1"/><path d="M316.89 1553.7V1589.7" stroke="#0a0a0a" stroke-width="3" fill="none"/><g fill="none" stroke="#111" stroke-width="1.35"><circle cx="286.34" cy="1571.7" r="3.8"/><circle cx="286.15" cy="1571.7" r="3.8"/><circle cx="285.73" cy="1571.7" r="3.8"/><circle cx="285.12" cy="1571.7" r="3.8"/><circle cx="284.36" cy="1571.7" r="3.8"/><circle cx="283.44" cy="1571.7" r="3.8"/><circle cx="282.39" cy="1571.7" r="3.8"/><circle cx="281.21" cy="1571.7" r="3.8"/><circle cx="279.91" cy="1571.7" r="3.8"/><circle cx="278.48" cy="1571.7" r="3.8"/><circle cx="276.94" cy="1571.7" r="3.8"/><circle cx="275.29" cy="1571.7" r="3.8"/><circle cx="273.53" cy="1571.7" r="3.8"/><circle cx="346.54" cy="1571.7" r="3.8"/><circle cx="346.86" cy="1571.7" r="3.8"/><circle cx="347.57" cy="1571.7" r="3.8"/><circle cx="348.59" cy="1571.7" r="3.8"/><circle cx="349.88" cy="1571.7" r="3.8"/><circle cx="351.42" cy="1571.7" r="3.8"/><circle cx="264.51" cy="1571.7" r="3.8"/><circle cx="359.07" cy="1571.7" r="3.8"/></g>
<path d="M161.3 1618.62H172.1" stroke="#5c5c5c" stroke-width="1.8"/>
<text transform="translate(151.8 1624.32) scale(1.124 1)" text-anchor="end" font-size="15.6" fill="#1a1a1a">lA_width</text>
<path d="M294.44 1618.62H315.76M351.36 1618.62H330.05" stroke="#222" stroke-width="1.3" stroke-dasharray="4.4 3.7" fill="none"/><path d="M294.44 1609.37V1627.87M351.36 1609.37V1627.87" stroke="#222" stroke-width="1.3" fill="none"/><rect x="315.76" y="1600.62" width="14.29" height="36" fill="#4E8097" stroke="#1a1a1a" stroke-width="1.1"/><path d="M323.02 1600.62V1636.62" stroke="#0a0a0a" stroke-width="3" fill="none"/><g fill="none" stroke="#111" stroke-width="1.35"><circle cx="294.73" cy="1618.62" r="3.8"/><circle cx="294.56" cy="1618.62" r="3.8"/><circle cx="294.17" cy="1618.62" r="3.8"/><circle cx="293.63" cy="1618.62" r="3.8"/><circle cx="292.93" cy="1618.62" r="3.8"/><circle cx="292.11" cy="1618.62" r="3.8"/><circle cx="291.16" cy="1618.62" r="3.8"/><circle cx="290.09" cy="1618.62" r="3.8"/><circle cx="288.9" cy="1618.62" r="3.8"/><circle cx="287.61" cy="1618.62" r="3.8"/><circle cx="286.22" cy="1618.62" r="3.8"/><circle cx="284.72" cy="1618.62" r="3.8"/><circle cx="283.13" cy="1618.62" r="3.8"/><circle cx="281.43" cy="1618.62" r="3.8"/><circle cx="279.65" cy="1618.62" r="3.8"/><circle cx="351.08" cy="1618.62" r="3.8"/><circle cx="351.39" cy="1618.62" r="3.8"/><circle cx="352.08" cy="1618.62" r="3.8"/><circle cx="353.07" cy="1618.62" r="3.8"/><circle cx="354.32" cy="1618.62" r="3.8"/><circle cx="355.82" cy="1618.62" r="3.8"/><circle cx="357.54" cy="1618.62" r="3.8"/></g>
<path d="M161.3 1665.54H172.1" stroke="#5c5c5c" stroke-width="1.8"/>
<text transform="translate(151.8 1671.24) scale(1.124 1)" text-anchor="end" font-size="15.6" fill="#1a1a1a">fGA_time</text>
<path d="M297.85 1665.54H320.75M359.07 1665.54H336.62" stroke="#222" stroke-width="1.3" stroke-dasharray="4.4 3.7" fill="none"/><path d="M297.85 1656.29V1674.79M359.07 1656.29V1674.79" stroke="#222" stroke-width="1.3" fill="none"/><rect x="320.75" y="1647.54" width="15.87" height="36" fill="#4E8097" stroke="#1a1a1a" stroke-width="1.1"/><path d="M329.14 1647.54V1683.54" stroke="#0a0a0a" stroke-width="3" fill="none"/><g fill="none" stroke="#111" stroke-width="1.35"><circle cx="297.67" cy="1665.54" r="3.8"/><circle cx="297.43" cy="1665.54" r="3.8"/><circle cx="296.89" cy="1665.54" r="3.8"/><circle cx="296.12" cy="1665.54" r="3.8"/><circle cx="295.13" cy="1665.54" r="3.8"/><circle cx="293.96" cy="1665.54" r="3.8"/><circle cx="292.61" cy="1665.54" r="3.8"/><circle cx="291.09" cy="1665.54" r="3.8"/><circle cx="289.42" cy="1665.54" r="3.8"/><circle cx="287.59" cy="1665.54" r="3.8"/><circle cx="360.15" cy="1665.54" r="3.8"/><circle cx="360.55" cy="1665.54" r="3.8"/><circle cx="361.44" cy="1665.54" r="3.8"/><circle cx="362.72" cy="1665.54" r="3.8"/><circle cx="364.34" cy="1665.54" r="3.8"/></g>
<path d="M161.3 1712.46H172.1" stroke="#5c5c5c" stroke-width="1.8"/>
<text transform="translate(151.8 1718.16) scale(1.124 1)" text-anchor="end" font-size="15.6" fill="#1a1a1a">lfJP_max</text>
<path d="M324.6 1712.46H342.52M372.45 1712.46H354.99" stroke="#222" stroke-width="1.3" stroke-dasharray="4.4 3.7" fill="none"/><path d="M324.6 1703.21V1721.71M372.45 1703.21V1721.71" stroke="#222" stroke-width="1.3" fill="none"/><rect x="342.52" y="1694.46" width="12.47" height="36" fill="#4E8097" stroke="#1a1a1a" stroke-width="1.1"/><path d="M348.87 1694.46V1730.46" stroke="#0a0a0a" stroke-width="3" fill="none"/><g fill="none" stroke="#111" stroke-width="1.35"><circle cx="324.2" cy="1712.46" r="3.8"/><circle cx="323.85" cy="1712.46" r="3.8"/><circle cx="323.05" cy="1712.46" r="3.8"/><circle cx="321.91" cy="1712.46" r="3.8"/><circle cx="320.47" cy="1712.46" r="3.8"/><circle cx="373.3" cy="1712.46" r="3.8"/><circle cx="373.61" cy="1712.46" r="3.8"/><circle cx="374.3" cy="1712.46" r="3.8"/><circle cx="375.29" cy="1712.46" r="3.8"/><circle cx="376.54" cy="1712.46" r="3.8"/><circle cx="378.04" cy="1712.46" r="3.8"/><circle cx="379.76" cy="1712.46" r="3.8"/><circle cx="312.13" cy="1712.46" r="3.8"/></g>
<path d="M161.3 1759.38H172.1" stroke="#5c5c5c" stroke-width="1.8"/>
<text transform="translate(151.8 1765.08) scale(1.124 1)" text-anchor="end" font-size="15.6" fill="#1a1a1a">lA_time</text>
<path d="M333.9 1759.38H350.91M379.48 1759.38H362.7" stroke="#222" stroke-width="1.3" stroke-dasharray="4.4 3.7" fill="none"/><path d="M333.9 1750.13V1768.63M379.48 1750.13V1768.63" stroke="#222" stroke-width="1.3" fill="none"/><rect x="350.91" y="1741.38" width="11.79" height="36" fill="#4E8097" stroke="#1a1a1a" stroke-width="1.1"/><path d="M356.35 1741.38V1777.38" stroke="#0a0a0a" stroke-width="3" fill="none"/><g fill="none" stroke="#111" stroke-width="1.35"><circle cx="333.96" cy="1759.38" r="3.8"/><circle cx="333.71" cy="1759.38" r="3.8"/><circle cx="333.17" cy="1759.38" r="3.8"/><circle cx="332.4" cy="1759.38" r="3.8"/><circle cx="331.41" cy="1759.38" r="3.8"/><circle cx="330.24" cy="1759.38" r="3.8"/><circle cx="328.89" cy="1759.38" r="3.8"/><circle cx="327.38" cy="1759.38" r="3.8"/><circle cx="325.7" cy="1759.38" r="3.8"/><circle cx="323.87" cy="1759.38" r="3.8"/><circle cx="379.42" cy="1759.38" r="3.8"/><circle cx="379.68" cy="1759.38" r="3.8"/><circle cx="380.27" cy="1759.38" r="3.8"/><circle cx="381.11" cy="1759.38" r="3.8"/><circle cx="382.18" cy="1759.38" r="3.8"/><circle cx="383.45" cy="1759.38" r="3.8"/><circle cx="384.92" cy="1759.38" r="3.8"/><circle cx="386.56" cy="1759.38" r="3.8"/><circle cx="392.18" cy="1759.38" r="3.8"/></g>
<path d="M161.3 1806.3H172.1" stroke="#5c5c5c" stroke-width="1.8"/>
<text transform="translate(151.8 1812) scale(1.124 1)" text-anchor="end" font-size="15.6" fill="#1a1a1a">lA_max</text>
<path d="M331.63 1806.3H351.13M383.79 1806.3H364.29" stroke="#222" stroke-width="1.3" stroke-dasharray="4.4 3.7" fill="none"/><path d="M331.63 1797.05V1815.55M383.79 1797.05V1815.55" stroke="#222" stroke-width="1.3" fill="none"/><rect x="351.13" y="1788.3" width="13.15" height="36" fill="#4E8097" stroke="#1a1a1a" stroke-width="1.1"/><path d="M358.16 1788.3V1824.3" stroke="#0a0a0a" stroke-width="3" fill="none"/><g fill="none" stroke="#111" stroke-width="1.35"><circle cx="331.69" cy="1806.3" r="3.8"/><circle cx="331.37" cy="1806.3" r="3.8"/><circle cx="330.65" cy="1806.3" r="3.8"/><circle cx="329.63" cy="1806.3" r="3.8"/><circle cx="328.33" cy="1806.3" r="3.8"/><circle cx="326.78" cy="1806.3" r="3.8"/><circle cx="325" cy="1806.3" r="3.8"/><circle cx="383.96" cy="1806.3" r="3.8"/><circle cx="384.24" cy="1806.3" r="3.8"/><circle cx="384.89" cy="1806.3" r="3.8"/><circle cx="385.81" cy="1806.3" r="3.8"/><circle cx="386.97" cy="1806.3" r="3.8"/><circle cx="388.36" cy="1806.3" r="3.8"/><circle cx="389.96" cy="1806.3" r="3.8"/></g>
<path d="M161.3 1853.22H172.1" stroke="#5c5c5c" stroke-width="1.8"/>
<text transform="translate(151.8 1858.92) scale(1.124 1)" text-anchor="end" font-size="15.6" fill="#1a1a1a">lfJP_time</text>
<path d="M335.94 1853.22H353.17M381.97 1853.22H365.19" stroke="#222" stroke-width="1.3" stroke-dasharray="4.4 3.7" fill="none"/><path d="M335.94 1843.97V1862.47M381.97 1843.97V1862.47" stroke="#222" stroke-width="1.3" fill="none"/><rect x="353.17" y="1835.22" width="12.02" height="36" fill="#4E8097" stroke="#1a1a1a" stroke-width="1.1"/><path d="M359.3 1835.22V1871.22" stroke="#0a0a0a" stroke-width="3" fill="none"/><g fill="none" stroke="#111" stroke-width="1.35"><circle cx="335.54" cy="1853.22" r="3.8"/><circle cx="335.3" cy="1853.22" r="3.8"/><circle cx="334.76" cy="1853.22" r="3.8"/><circle cx="333.98" cy="1853.22" r="3.8"/><circle cx="333" cy="1853.22" r="3.8"/><circle cx="331.82" cy="1853.22" r="3.8"/><circle cx="330.47" cy="1853.22" r="3.8"/><circle cx="328.95" cy="1853.22" r="3.8"/><circle cx="327.27" cy="1853.22" r="3.8"/><circle cx="382.82" cy="1853.22" r="3.8"/><circle cx="383.11" cy="1853.22" r="3.8"/><circle cx="383.75" cy="1853.22" r="3.8"/><circle cx="384.68" cy="1853.22" r="3.8"/><circle cx="385.84" cy="1853.22" r="3.8"/><circle cx="387.24" cy="1853.22" r="3.8"/><circle cx="388.84" cy="1853.22" r="3.8"/><circle cx="390.64" cy="1853.22" r="3.8"/><circle cx="312.59" cy="1853.22" r="3.8"/><circle cx="318.48" cy="1853.22" r="3.8"/></g>
<path d="M161.3 1900.14H172.1" stroke="#5c5c5c" stroke-width="1.8"/>
<text transform="translate(151.8 1905.84) scale(1.124 1)" text-anchor="end" font-size="15.6" fill="#1a1a1a">d_E</text>
<path d="M408.96 1900.14H425.74M454.08 1900.14H437.76" stroke="#222" stroke-width="1.3" stroke-dasharray="4.4 3.7" fill="none"/><path d="M408.96 1890.89V1909.39M454.08 1890.89V1909.39" stroke="#222" stroke-width="1.3" fill="none"/><rect x="425.74" y="1882.14" width="12.02" height="36" fill="#4E8097" stroke="#1a1a1a" stroke-width="1.1"/><path d="M431.86 1882.14V1918.14" stroke="#0a0a0a" stroke-width="3" fill="none"/><g fill="none" stroke="#111" stroke-width="1.35"><circle cx="409.24" cy="1900.14" r="3.8"/><circle cx="409.06" cy="1900.14" r="3.8"/><circle cx="408.65" cy="1900.14" r="3.8"/><circle cx="408.07" cy="1900.14" r="3.8"/><circle cx="407.33" cy="1900.14" r="3.8"/><circle cx="406.45" cy="1900.14" r="3.8"/><circle cx="405.44" cy="1900.14" r="3.8"/><circle cx="404.3" cy="1900.14" r="3.8"/><circle cx="403.04" cy="1900.14" r="3.8"/><circle cx="401.66" cy="1900.14" r="3.8"/><circle cx="400.18" cy="1900.14" r="3.8"/><circle cx="398.58" cy="1900.14" r="3.8"/><circle cx="396.88" cy="1900.14" r="3.8"/><circle cx="454.25" cy="1900.14" r="3.8"/><circle cx="454.51" cy="1900.14" r="3.8"/><circle cx="455.08" cy="1900.14" r="3.8"/><circle cx="455.9" cy="1900.14" r="3.8"/><circle cx="456.94" cy="1900.14" r="3.8"/><circle cx="458.18" cy="1900.14" r="3.8"/><circle cx="459.6" cy="1900.14" r="3.8"/><circle cx="461.21" cy="1900.14" r="3.8"/><circle cx="462.98" cy="1900.14" r="3.8"/></g>
<path d="M161.3 1947.06H172.1" stroke="#5c5c5c" stroke-width="1.8"/>
<text transform="translate(151.8 1952.76) scale(1.124 1)" text-anchor="end" font-size="15.6" fill="#1a1a1a">lP_max</text>
<path d="M412.59 1947.06H430.05M459.07 1947.06H442.06" stroke="#222" stroke-width="1.3" stroke-dasharray="4.4 3.7" fill="none"/><path d="M412.59 1937.81V1956.31M459.07 1937.81V1956.31" stroke="#222" stroke-width="1.3" fill="none"/><rect x="430.05" y="1929.06" width="12.02" height="36" fill="#4E8097" stroke="#1a1a1a" stroke-width="1.1"/><path d="M436.17 1929.06V1965.06" stroke="#0a0a0a" stroke-width="3" fill="none"/><g fill="none" stroke="#111" stroke-width="1.35"><circle cx="413.32" cy="1947.06" r="3.8"/><circle cx="413.13" cy="1947.06" r="3.8"/><circle cx="412.7" cy="1947.06" r="3.8"/><circle cx="412.09" cy="1947.06" r="3.8"/><circle cx="411.31" cy="1947.06" r="3.8"/><circle cx="410.38" cy="1947.06" r="3.8"/><circle cx="409.32" cy="1947.06" r="3.8"/><circle cx="408.12" cy="1947.06" r="3.8"/><circle cx="406.79" cy="1947.06" r="3.8"/><circle cx="405.34" cy="1947.06" r="3.8"/><circle cx="403.78" cy="1947.06" r="3.8"/><circle cx="402.1" cy="1947.06" r="3.8"/><circle cx="459.24" cy="1947.06" r="3.8"/><circle cx="459.42" cy="1947.06" r="3.8"/><circle cx="459.83" cy="1947.06" r="3.8"/><circle cx="460.41" cy="1947.06" r="3.8"/><circle cx="461.15" cy="1947.06" r="3.8"/><circle cx="462.03" cy="1947.06" r="3.8"/><circle cx="463.04" cy="1947.06" r="3.8"/><circle cx="464.18" cy="1947.06" r="3.8"/><circle cx="465.44" cy="1947.06" r="3.8"/><circle cx="466.82" cy="1947.06" r="3.8"/><circle cx="468.3" cy="1947.06" r="3.8"/><circle cx="469.9" cy="1947.06" r="3.8"/><circle cx="471.6" cy="1947.06" r="3.8"/></g>
<path d="M161.3 1993.98H172.1" stroke="#5c5c5c" stroke-width="1.8"/>
<text transform="translate(151.8 1999.68) scale(1.124 1)" text-anchor="end" font-size="15.6" fill="#1a1a1a">lP_time</text>
<path d="M435.03 1993.98H453.4M484.01 1993.98H466.33" stroke="#222" stroke-width="1.3" stroke-dasharray="4.4 3.7" fill="none"/><path d="M435.03 1984.73V2003.23M484.01 1984.73V2003.23" stroke="#222" stroke-width="1.3" fill="none"/><rect x="453.4" y="1975.98" width="12.93" height="36" fill="#4E8097" stroke="#1a1a1a" stroke-width="1.1"/><path d="M459.52 1975.98V2011.98" stroke="#0a0a0a" stroke-width="3" fill="none"/><g fill="none" stroke="#111" stroke-width="1.35"><circle cx="435.32" cy="1993.98" r="3.8"/><circle cx="435.09" cy="1993.98" r="3.8"/><circle cx="434.59" cy="1993.98" r="3.8"/><circle cx="433.86" cy="1993.98" r="3.8"/><circle cx="432.95" cy="1993.98" r="3.8"/><circle cx="431.85" cy="1993.98" r="3.8"/><circle cx="430.59" cy="1993.98" r="3.8"/><circle cx="429.18" cy="1993.98" r="3.8"/><circle cx="427.62" cy="1993.98" r="3.8"/><circle cx="425.91" cy="1993.98" r="3.8"/><circle cx="484.41" cy="1993.98" r="3.8"/><circle cx="484.72" cy="1993.98" r="3.8"/><circle cx="485.41" cy="1993.98" r="3.8"/><circle cx="486.4" cy="1993.98" r="3.8"/><circle cx="487.65" cy="1993.98" r="3.8"/><circle cx="489.15" cy="1993.98" r="3.8"/><circle cx="490.87" cy="1993.98" r="3.8"/><circle cx="498.53" cy="1993.98" r="3.8"/></g>
</g>
<text transform="translate(6.8 70.0) scale(0.965 1)" font-size="92.5" fill="#000" stroke="#000" stroke-width="2.8" stroke-linejoin="miter">A</text>
<text transform="translate(724.2 70.4) scale(0.95 1)" font-size="92.5" fill="#000" stroke="#000" stroke-width="2.8" stroke-linejoin="miter">A</text>
<text x="781.8" y="69.8" font-size="92.5" fill="#000" stroke="#000" stroke-width="2.8" stroke-linejoin="miter">’</text>
<text transform="translate(553.2 1161.6) scale(1.045 1)" font-size="92.5" fill="#000" stroke="#000" stroke-width="2.8" stroke-linejoin="miter">B</text>
<g id="panelAp">
<path d="M882.4 300.5V928.2H1411.3V300.5" fill="none" stroke="#333" stroke-width="1.8"/>
<path d="M892.6 115.7V132.5" stroke="#333" stroke-width="1.8"/>
<text transform="translate(882.9 100.2) rotate(90) scale(1 1.13)" text-anchor="end" font-size="25" fill="#1a1a1a">-5</text>
<path d="M1005 115.7V132.5" stroke="#333" stroke-width="1.8"/>
<text transform="translate(995.3 100.2) rotate(90) scale(1 1.13)" text-anchor="end" font-size="25" fill="#1a1a1a">0</text>
<path d="M1117.4 115.7V132.5" stroke="#333" stroke-width="1.8"/>
<text transform="translate(1107.7 100.2) rotate(90) scale(1 1.13)" text-anchor="end" font-size="25" fill="#1a1a1a">5</text>
<path d="M1229.8 115.7V132.5" stroke="#333" stroke-width="1.8"/>
<text transform="translate(1220.1 100.2) rotate(90) scale(1 1.13)" text-anchor="end" font-size="25" fill="#1a1a1a">10</text>
<path d="M1342.2 115.7V132.5" stroke="#333" stroke-width="1.8"/>
<text transform="translate(1332.5 100.2) rotate(90) scale(1 1.13)" text-anchor="end" font-size="25" fill="#1a1a1a">15</text>
<polygon points="773.8,243.1 971.5,175.2 977.5,190.8 779.5,258" fill="#000"/>
<polygon points="773.8,283.9 971.5,217.7 977.5,232.9 779.5,299.9" fill="#000"/>
<polygon points="1300.5,242.8 1498.3,175.2 1503.9,191.1 1306.2,258" fill="#fff" stroke="#333" stroke-width="0.8"/>
<polygon points="1300.5,283.5 1498.3,217.3 1503.9,232.9 1306.2,299.9" fill="#fff" stroke="#333" stroke-width="0.8"/>
<path d="M881.3 206V132.5H1408V217" fill="none" stroke="#333" stroke-width="1.8"/>
<path d="M865.8 334.2H882.4" stroke="#333" stroke-width="1.8"/>
<text transform="translate(849.5 343.6) scale(1.112 1)" text-anchor="end" font-size="24.9" fill="#1a1a1a">lfJP_max</text>
<path d="M1121.34 334.2H1148.98M1195.32 334.2H1168.11" stroke="#222" stroke-width="2" stroke-dasharray="7.4 5.7" fill="none"/><path d="M1121.34 318.95V349.45M1195.32 318.95V349.45" stroke="#222" stroke-width="2" fill="none"/><rect x="1148.98" y="304.7" width="19.13" height="59" fill="#4E8097" stroke="#1a1a1a" stroke-width="1.7"/><path d="M1158.33 304.7V363.7" stroke="#0a0a0a" stroke-width="5.2" fill="none"/><g fill="none" stroke="#111" stroke-width="2"><circle cx="1120.15" cy="334.2" r="6.2"/><circle cx="1119.27" cy="334.2" r="6.2"/><circle cx="1117.29" cy="334.2" r="6.2"/><circle cx="1114.46" cy="334.2" r="6.2"/><circle cx="1196.1" cy="334.2" r="6.2"/><circle cx="1196.8" cy="334.2" r="6.2"/><circle cx="1198.37" cy="334.2" r="6.2"/><circle cx="1200.62" cy="334.2" r="6.2"/><circle cx="1203.48" cy="334.2" r="6.2"/><circle cx="1206.88" cy="334.2" r="6.2"/><circle cx="1101.79" cy="334.2" r="6.2"/></g>
<path d="M865.8 407.68H882.4" stroke="#333" stroke-width="1.8"/>
<text transform="translate(849.5 417.08) scale(1.112 1)" text-anchor="end" font-size="24.9" fill="#1a1a1a">lA_time</text>
<path d="M1134.95 407.68H1161.73M1206.38 407.68H1180.44" stroke="#222" stroke-width="2" stroke-dasharray="7.4 5.7" fill="none"/><path d="M1134.95 392.43V422.93M1206.38 392.43V422.93" stroke="#222" stroke-width="2" fill="none"/><rect x="1161.73" y="378.18" width="18.71" height="59" fill="#4E8097" stroke="#1a1a1a" stroke-width="1.7"/><path d="M1170.66 378.18V437.18" stroke="#0a0a0a" stroke-width="5.2" fill="none"/><g fill="none" stroke="#111" stroke-width="2"><circle cx="1135.88" cy="407.68" r="6.2"/><circle cx="1135.38" cy="407.68" r="6.2"/><circle cx="1134.25" cy="407.68" r="6.2"/><circle cx="1132.64" cy="407.68" r="6.2"/><circle cx="1130.59" cy="407.68" r="6.2"/><circle cx="1128.16" cy="407.68" r="6.2"/><circle cx="1125.35" cy="407.68" r="6.2"/><circle cx="1122.2" cy="407.68" r="6.2"/><circle cx="1118.71" cy="407.68" r="6.2"/><circle cx="1206.73" cy="407.68" r="6.2"/><circle cx="1207.59" cy="407.68" r="6.2"/><circle cx="1209.52" cy="407.68" r="6.2"/><circle cx="1212.3" cy="407.68" r="6.2"/><circle cx="1215.81" cy="407.68" r="6.2"/><circle cx="1226.36" cy="407.68" r="6.2"/></g>
<path d="M865.8 481.16H882.4" stroke="#333" stroke-width="1.8"/>
<text transform="translate(849.5 490.56) scale(1.112 1)" text-anchor="end" font-size="24.9" fill="#1a1a1a">lA_max</text>
<path d="M1131.97 481.16H1162.16M1213.18 481.16H1182.99" stroke="#222" stroke-width="2" stroke-dasharray="7.4 5.7" fill="none"/><path d="M1131.97 465.91V496.41M1213.18 465.91V496.41" stroke="#222" stroke-width="2" fill="none"/><rect x="1162.16" y="451.66" width="20.83" height="59" fill="#4E8097" stroke="#1a1a1a" stroke-width="1.7"/><path d="M1172.79 451.66V510.66" stroke="#0a0a0a" stroke-width="5.2" fill="none"/><g fill="none" stroke="#111" stroke-width="2"><circle cx="1130.77" cy="481.16" r="6.2"/><circle cx="1129.83" cy="481.16" r="6.2"/><circle cx="1127.72" cy="481.16" r="6.2"/><circle cx="1124.68" cy="481.16" r="6.2"/><circle cx="1120.84" cy="481.16" r="6.2"/><circle cx="1213.1" cy="481.16" r="6.2"/><circle cx="1213.96" cy="481.16" r="6.2"/><circle cx="1215.9" cy="481.16" r="6.2"/><circle cx="1218.67" cy="481.16" r="6.2"/><circle cx="1222.19" cy="481.16" r="6.2"/></g>
<path d="M865.8 554.64H882.4" stroke="#333" stroke-width="1.8"/>
<text transform="translate(849.5 564.04) scale(1.112 1)" text-anchor="end" font-size="24.9" fill="#1a1a1a">lfJP_time</text>
<path d="M1138.35 554.64H1165.14M1211.05 554.64H1184.27" stroke="#222" stroke-width="2" stroke-dasharray="7.4 5.7" fill="none"/><path d="M1138.35 539.39V569.89M1211.05 539.39V569.89" stroke="#222" stroke-width="2" fill="none"/><rect x="1165.14" y="525.14" width="19.13" height="59" fill="#4E8097" stroke="#1a1a1a" stroke-width="1.7"/><path d="M1174.49 525.14V584.14" stroke="#0a0a0a" stroke-width="5.2" fill="none"/><g fill="none" stroke="#111" stroke-width="2"><circle cx="1138" cy="554.64" r="6.2"/><circle cx="1137.35" cy="554.64" r="6.2"/><circle cx="1135.88" cy="554.64" r="6.2"/><circle cx="1133.77" cy="554.64" r="6.2"/><circle cx="1131.1" cy="554.64" r="6.2"/><circle cx="1127.91" cy="554.64" r="6.2"/><circle cx="1124.24" cy="554.64" r="6.2"/><circle cx="1210.98" cy="554.64" r="6.2"/><circle cx="1211.59" cy="554.64" r="6.2"/><circle cx="1212.97" cy="554.64" r="6.2"/><circle cx="1214.95" cy="554.64" r="6.2"/><circle cx="1217.46" cy="554.64" r="6.2"/><circle cx="1220.45" cy="554.64" r="6.2"/><circle cx="1223.89" cy="554.64" r="6.2"/><circle cx="1101.79" cy="554.64" r="6.2"/><circle cx="1111.14" cy="554.64" r="6.2"/></g>
<path d="M865.8 628.12H882.4" stroke="#333" stroke-width="1.8"/>
<text transform="translate(849.5 637.52) scale(1.112 1)" text-anchor="end" font-size="24.9" fill="#1a1a1a">d_E</text>
<path d="M1252.72 628.12H1279.08M1323.3 628.12H1297.36" stroke="#222" stroke-width="2" stroke-dasharray="7.4 5.7" fill="none"/><path d="M1252.72 612.87V643.37M1323.3 612.87V643.37" stroke="#222" stroke-width="2" fill="none"/><rect x="1279.08" y="598.62" width="18.28" height="59" fill="#4E8097" stroke="#1a1a1a" stroke-width="1.7"/><path d="M1288.01 598.62V657.62" stroke="#0a0a0a" stroke-width="5.2" fill="none"/><g fill="none" stroke="#111" stroke-width="2"><circle cx="1252.8" cy="628.12" r="6.2"/><circle cx="1252.34" cy="628.12" r="6.2"/><circle cx="1251.3" cy="628.12" r="6.2"/><circle cx="1249.82" cy="628.12" r="6.2"/><circle cx="1247.94" cy="628.12" r="6.2"/><circle cx="1245.7" cy="628.12" r="6.2"/><circle cx="1243.12" cy="628.12" r="6.2"/><circle cx="1240.22" cy="628.12" r="6.2"/><circle cx="1237.01" cy="628.12" r="6.2"/><circle cx="1233.51" cy="628.12" r="6.2"/><circle cx="1324.07" cy="628.12" r="6.2"/><circle cx="1324.67" cy="628.12" r="6.2"/><circle cx="1326" cy="628.12" r="6.2"/><circle cx="1327.91" cy="628.12" r="6.2"/><circle cx="1330.34" cy="628.12" r="6.2"/><circle cx="1333.23" cy="628.12" r="6.2"/><circle cx="1336.56" cy="628.12" r="6.2"/></g>
<path d="M865.8 701.6H882.4" stroke="#333" stroke-width="1.8"/>
<text transform="translate(849.5 711) scale(1.112 1)" text-anchor="end" font-size="24.9" fill="#1a1a1a">lP_max</text>
<path d="M1258.67 701.6H1285.46M1330.95 701.6H1304.17" stroke="#222" stroke-width="2" stroke-dasharray="7.4 5.7" fill="none"/><path d="M1258.67 686.35V716.85M1330.95 686.35V716.85" stroke="#222" stroke-width="2" fill="none"/><rect x="1285.46" y="672.1" width="18.71" height="59" fill="#4E8097" stroke="#1a1a1a" stroke-width="1.7"/><path d="M1295.24 672.1V731.1" stroke="#0a0a0a" stroke-width="5.2" fill="none"/><g fill="none" stroke="#111" stroke-width="2"><circle cx="1259.18" cy="701.6" r="6.2"/><circle cx="1258.68" cy="701.6" r="6.2"/><circle cx="1257.55" cy="701.6" r="6.2"/><circle cx="1255.94" cy="701.6" r="6.2"/><circle cx="1253.89" cy="701.6" r="6.2"/><circle cx="1251.46" cy="701.6" r="6.2"/><circle cx="1248.65" cy="701.6" r="6.2"/><circle cx="1245.5" cy="701.6" r="6.2"/><circle cx="1242.01" cy="701.6" r="6.2"/><circle cx="1331.3" cy="701.6" r="6.2"/><circle cx="1331.84" cy="701.6" r="6.2"/><circle cx="1333.05" cy="701.6" r="6.2"/><circle cx="1334.78" cy="701.6" r="6.2"/><circle cx="1336.97" cy="701.6" r="6.2"/><circle cx="1339.59" cy="701.6" r="6.2"/><circle cx="1342.61" cy="701.6" r="6.2"/><circle cx="1345.99" cy="701.6" r="6.2"/><circle cx="1349.74" cy="701.6" r="6.2"/></g>
<path d="M865.8 775.08H882.4" stroke="#333" stroke-width="1.8"/>
<text transform="translate(849.5 784.48) scale(1.112 1)" text-anchor="end" font-size="24.9" fill="#1a1a1a">lP_time</text>
<path d="M1293.96 775.08H1322.02M1370.49 775.08H1342.01" stroke="#222" stroke-width="2" stroke-dasharray="7.4 5.7" fill="none"/><path d="M1293.96 759.83V790.33M1370.49 759.83V790.33" stroke="#222" stroke-width="2" fill="none"/><rect x="1322.02" y="745.58" width="19.98" height="59" fill="#4E8097" stroke="#1a1a1a" stroke-width="1.7"/><path d="M1332.23 745.58V804.58" stroke="#0a0a0a" stroke-width="5.2" fill="none"/><g fill="none" stroke="#111" stroke-width="2"><circle cx="1293.19" cy="775.08" r="6.2"/><circle cx="1292.52" cy="775.08" r="6.2"/><circle cx="1291" cy="775.08" r="6.2"/><circle cx="1288.82" cy="775.08" r="6.2"/><circle cx="1286.07" cy="775.08" r="6.2"/><circle cx="1282.78" cy="775.08" r="6.2"/><circle cx="1279" cy="775.08" r="6.2"/><circle cx="1370.84" cy="775.08" r="6.2"/><circle cx="1371.74" cy="775.08" r="6.2"/><circle cx="1373.77" cy="775.08" r="6.2"/><circle cx="1376.67" cy="775.08" r="6.2"/><circle cx="1380.35" cy="775.08" r="6.2"/><circle cx="1391.75" cy="775.08" r="6.2"/></g>
</g>
<g id="panelB">
<path d="M693.7 1992.1C726.25 1992.08 854.45 1992.28 889 1991.95C923.55 1991.63 897 1990.72 901 1990.16C905 1989.6 909 1989.16 913 1988.61C917 1988.07 921 1987.56 925 1986.89C929 1986.22 933 1985.53 937 1984.6C941 1983.67 945 1982.64 949 1981.32C953 1979.99 957 1978.5 961 1976.65C965 1974.79 969 1972.7 973 1970.17C977 1967.65 981 1964.75 985 1961.5C989 1958.25 993 1954.54 997 1950.66C1001 1946.78 1005 1942.53 1009 1938.21C1013 1933.89 1017 1929.31 1021 1924.75C1025 1920.2 1029 1915.48 1033 1910.89C1037 1906.3 1041 1901.64 1045 1897.21C1049 1892.79 1053 1888.4 1057 1884.33C1061 1880.26 1065 1876.34 1069 1872.8C1073 1869.26 1077 1865.94 1081 1863.09C1085 1860.23 1089 1857.68 1093 1855.66C1097 1853.64 1101 1852.03 1105 1850.98C1109 1849.93 1113 1849.44 1117 1849.37C1121 1849.29 1125 1849.76 1129 1850.53C1133 1851.3 1137 1852.54 1141 1854.01C1145 1855.48 1149 1857.34 1153 1859.37C1157 1861.4 1161 1863.74 1165 1866.18C1169 1868.61 1173 1871.29 1177 1873.99C1181 1876.69 1185 1879.56 1189 1882.38C1193 1885.2 1197 1888.11 1201 1890.9C1205 1893.69 1209 1896.5 1213 1899.13C1217 1901.75 1221 1904.27 1225 1906.63C1229 1908.99 1233 1911.2 1237 1913.28C1241 1915.37 1245 1917.31 1249 1919.15C1253 1920.98 1257 1922.69 1261 1924.3C1265 1925.91 1269 1927.4 1273 1928.81C1277 1930.22 1281 1931.53 1285 1932.76C1289 1934 1293 1935.14 1297 1936.22C1301 1937.31 1305 1938.31 1309 1939.27C1313 1940.23 1317 1941.12 1321 1941.98C1325 1942.84 1329 1943.64 1333 1944.43C1337 1945.21 1341 1945.95 1345 1946.68C1349 1947.41 1353 1948.11 1357 1948.82C1361 1949.53 1365 1950.21 1369 1950.92C1373 1951.62 1377 1952.32 1381 1953.05C1385 1953.78 1389 1954.51 1393 1955.29C1397 1956.07 1401 1956.87 1405 1957.71C1409 1958.55 1413 1959.43 1417 1960.31C1421 1961.2 1425 1962.11 1429 1963.02C1433 1963.93 1437 1964.86 1441 1965.77C1445 1966.67 1449 1967.58 1453 1968.46C1457 1969.34 1461 1970.21 1465 1971.04C1469 1971.87 1473 1972.68 1477 1973.43C1481 1974.17 1485 1974.89 1489 1975.54C1493 1976.19 1497 1976.78 1501 1977.32C1505 1977.87 1509 1978.36 1513 1978.82C1517 1979.28 1521 1979.69 1525 1980.09C1529 1980.49 1533 1980.85 1537 1981.21C1541 1981.57 1545 1981.9 1549 1982.24C1553 1982.58 1557.07 1982.91 1561 1983.25C1564.93 1983.59 1570.67 1984.1 1572.6 1984.27L1572.6 1992.2L693.7 1992.2Z" fill="#2D004E" fill-opacity="0.4" stroke="none"/><path d="M693.7 1992.1C726.25 1992.08 854.45 1992.28 889 1991.95C923.55 1991.63 897 1990.72 901 1990.16C905 1989.6 909 1989.16 913 1988.61C917 1988.07 921 1987.56 925 1986.89C929 1986.22 933 1985.53 937 1984.6C941 1983.67 945 1982.64 949 1981.32C953 1979.99 957 1978.5 961 1976.65C965 1974.79 969 1972.7 973 1970.17C977 1967.65 981 1964.75 985 1961.5C989 1958.25 993 1954.54 997 1950.66C1001 1946.78 1005 1942.53 1009 1938.21C1013 1933.89 1017 1929.31 1021 1924.75C1025 1920.2 1029 1915.48 1033 1910.89C1037 1906.3 1041 1901.64 1045 1897.21C1049 1892.79 1053 1888.4 1057 1884.33C1061 1880.26 1065 1876.34 1069 1872.8C1073 1869.26 1077 1865.94 1081 1863.09C1085 1860.23 1089 1857.68 1093 1855.66C1097 1853.64 1101 1852.03 1105 1850.98C1109 1849.93 1113 1849.44 1117 1849.37C1121 1849.29 1125 1849.76 1129 1850.53C1133 1851.3 1137 1852.54 1141 1854.01C1145 1855.48 1149 1857.34 1153 1859.37C1157 1861.4 1161 1863.74 1165 1866.18C1169 1868.61 1173 1871.29 1177 1873.99C1181 1876.69 1185 1879.56 1189 1882.38C1193 1885.2 1197 1888.11 1201 1890.9C1205 1893.69 1209 1896.5 1213 1899.13C1217 1901.75 1221 1904.27 1225 1906.63C1229 1908.99 1233 1911.2 1237 1913.28C1241 1915.37 1245 1917.31 1249 1919.15C1253 1920.98 1257 1922.69 1261 1924.3C1265 1925.91 1269 1927.4 1273 1928.81C1277 1930.22 1281 1931.53 1285 1932.76C1289 1934 1293 1935.14 1297 1936.22C1301 1937.31 1305 1938.31 1309 1939.27C1313 1940.23 1317 1941.12 1321 1941.98C1325 1942.84 1329 1943.64 1333 1944.43C1337 1945.21 1341 1945.95 1345 1946.68C1349 1947.41 1353 1948.11 1357 1948.82C1361 1949.53 1365 1950.21 1369 1950.92C1373 1951.62 1377 1952.32 1381 1953.05C1385 1953.78 1389 1954.51 1393 1955.29C1397 1956.07 1401 1956.87 1405 1957.71C1409 1958.55 1413 1959.43 1417 1960.31C1421 1961.2 1425 1962.11 1429 1963.02C1433 1963.93 1437 1964.86 1441 1965.77C1445 1966.67 1449 1967.58 1453 1968.46C1457 1969.34 1461 1970.21 1465 1971.04C1469 1971.87 1473 1972.68 1477 1973.43C1481 1974.17 1485 1974.89 1489 1975.54C1493 1976.19 1497 1976.78 1501 1977.32C1505 1977.87 1509 1978.36 1513 1978.82C1517 1979.28 1521 1979.69 1525 1980.09C1529 1980.49 1533 1980.85 1537 1981.21C1541 1981.57 1545 1981.9 1549 1982.24C1553 1982.58 1557.07 1982.91 1561 1983.25C1564.93 1983.59 1570.67 1984.1 1572.6 1984.27" fill="none" stroke="#1a1a1a" stroke-width="2" stroke-linejoin="round"/>
<path d="M694.4 1991.6C700.45 1991.22 722 1990.33 730.7 1989.3C739.4 1988.27 742.07 1986.32 746.6 1985.4C751.13 1984.48 753.75 1983.92 757.9 1983.8C762.05 1983.68 766.97 1984.32 771.5 1984.7C776.03 1985.08 780.57 1986.17 785.1 1986.1C789.63 1986.03 794.53 1985.37 798.7 1984.3C802.87 1983.23 806.7 1981.78 810.1 1979.7C813.5 1977.62 816.65 1974.63 819.1 1971.8C821.55 1968.97 822.9 1966.3 824.8 1962.7C826.7 1959.1 828.52 1956.48 830.5 1950.2C832.48 1943.92 835.37 1930.87 836.7 1925C838.03 1919.13 837.88 1918.33 838.47 1915C839.06 1911.67 839.62 1908.33 840.22 1905C840.82 1901.67 841.44 1898.33 842.07 1895C842.71 1891.67 843.36 1888.33 844.02 1885C844.68 1881.67 845.35 1878.33 846.02 1875C846.7 1871.67 847.38 1868.33 848.06 1865C848.74 1861.67 849.42 1858.33 850.09 1855C850.76 1851.67 851.44 1848.33 852.09 1845C852.75 1841.67 853.4 1838.33 854.03 1835C854.66 1831.67 855.29 1828.33 855.88 1825C856.48 1821.67 857.06 1818.33 857.61 1815C858.16 1811.67 858.68 1808.33 859.19 1805C859.7 1801.67 860.17 1798.33 860.66 1795C861.15 1791.67 861.62 1788.33 862.12 1785C862.61 1781.67 863.11 1778.33 863.64 1775C864.17 1771.67 864.71 1768.33 865.3 1765C865.9 1761.67 866.51 1758.33 867.2 1755C867.88 1751.67 868.6 1748.33 869.4 1745C870.21 1741.67 871.06 1738.33 872.01 1735C872.96 1731.67 873.97 1728.33 875.09 1725C876.21 1721.67 877.43 1718.33 878.72 1715C880.01 1711.67 881.4 1708.33 882.83 1705C884.26 1701.67 885.78 1698.33 887.31 1695C888.85 1691.67 890.47 1688.33 892.03 1685C893.59 1681.67 895.19 1678.33 896.66 1675C898.12 1671.67 899.52 1668.33 900.81 1665C902.1 1661.67 903.22 1658.33 904.4 1655C905.58 1651.67 906.65 1648.33 907.87 1645C909.09 1641.67 910.28 1638.33 911.7 1635C913.11 1631.67 914.53 1628.57 916.36 1625C918.2 1621.43 920.79 1616.28 922.7 1613.6C924.61 1610.92 926.08 1608.9 927.8 1608.9C929.52 1608.9 931.4 1610.92 933 1613.6C934.6 1616.28 936.1 1621.1 937.38 1625C938.65 1628.9 939.63 1633 940.66 1637C941.69 1641 942.66 1645 943.57 1649C944.49 1653 945.34 1657 946.15 1661C946.96 1665 947.72 1669 948.44 1673C949.16 1677 949.84 1681 950.49 1685C951.14 1689 951.75 1693 952.34 1697C952.93 1701 953.49 1705 954.03 1709C954.58 1713 955.1 1717 955.61 1721C956.13 1725 956.63 1729 957.13 1733C957.63 1737 958.12 1741 958.62 1745C959.12 1749 959.61 1753 960.13 1757C960.64 1761 961.16 1765 961.7 1769C962.24 1773 962.8 1777 963.37 1781C963.94 1785 964.52 1789 965.11 1793C965.71 1797 966.32 1801 966.93 1805C967.55 1809 968.17 1813 968.8 1817C969.43 1821 970.07 1825 970.71 1829C971.35 1833 971.99 1837 972.63 1841C973.28 1845 973.92 1849 974.56 1853C975.2 1857 975.84 1861 976.47 1865C977.1 1869 977.73 1873 978.34 1877C978.95 1881 979.56 1885 980.16 1889C980.75 1893 981.31 1897 981.92 1901C982.53 1905 983.12 1909 983.81 1913C984.5 1917 985.2 1921 986.06 1925C986.91 1929 987.82 1933 988.91 1937C990.01 1941 991.06 1944.52 992.63 1949C994.19 1953.48 996.22 1959.53 998.3 1963.9C1000.38 1968.27 1002.47 1972 1005.1 1975.2C1007.73 1978.4 1010.7 1980.83 1014.1 1983.1C1017.5 1985.37 1021.18 1987.4 1025.5 1988.8C1029.82 1990.2 1035.18 1990.97 1040 1991.5C1044.82 1992.03 1044.4 1991.88 1054.4 1992C1064.4 1992.12 1013.63 1992.17 1100 1992.2C1186.37 1992.23 1493.83 1992.2 1572.6 1992.2L1572.6 1992.2L693.7 1992.2Z" fill="#449194" fill-opacity="0.4" stroke="none"/><path d="M694.4 1991.6C700.45 1991.22 722 1990.33 730.7 1989.3C739.4 1988.27 742.07 1986.32 746.6 1985.4C751.13 1984.48 753.75 1983.92 757.9 1983.8C762.05 1983.68 766.97 1984.32 771.5 1984.7C776.03 1985.08 780.57 1986.17 785.1 1986.1C789.63 1986.03 794.53 1985.37 798.7 1984.3C802.87 1983.23 806.7 1981.78 810.1 1979.7C813.5 1977.62 816.65 1974.63 819.1 1971.8C821.55 1968.97 822.9 1966.3 824.8 1962.7C826.7 1959.1 828.52 1956.48 830.5 1950.2C832.48 1943.92 835.37 1930.87 836.7 1925C838.03 1919.13 837.88 1918.33 838.47 1915C839.06 1911.67 839.62 1908.33 840.22 1905C840.82 1901.67 841.44 1898.33 842.07 1895C842.71 1891.67 843.36 1888.33 844.02 1885C844.68 1881.67 845.35 1878.33 846.02 1875C846.7 1871.67 847.38 1868.33 848.06 1865C848.74 1861.67 849.42 1858.33 850.09 1855C850.76 1851.67 851.44 1848.33 852.09 1845C852.75 1841.67 853.4 1838.33 854.03 1835C854.66 1831.67 855.29 1828.33 855.88 1825C856.48 1821.67 857.06 1818.33 857.61 1815C858.16 1811.67 858.68 1808.33 859.19 1805C859.7 1801.67 860.17 1798.33 860.66 1795C861.15 1791.67 861.62 1788.33 862.12 1785C862.61 1781.67 863.11 1778.33 863.64 1775C864.17 1771.67 864.71 1768.33 865.3 1765C865.9 1761.67 866.51 1758.33 867.2 1755C867.88 1751.67 868.6 1748.33 869.4 1745C870.21 1741.67 871.06 1738.33 872.01 1735C872.96 1731.67 873.97 1728.33 875.09 1725C876.21 1721.67 877.43 1718.33 878.72 1715C880.01 1711.67 881.4 1708.33 882.83 1705C884.26 1701.67 885.78 1698.33 887.31 1695C888.85 1691.67 890.47 1688.33 892.03 1685C893.59 1681.67 895.19 1678.33 896.66 1675C898.12 1671.67 899.52 1668.33 900.81 1665C902.1 1661.67 903.22 1658.33 904.4 1655C905.58 1651.67 906.65 1648.33 907.87 1645C909.09 1641.67 910.28 1638.33 911.7 1635C913.11 1631.67 914.53 1628.57 916.36 1625C918.2 1621.43 920.79 1616.28 922.7 1613.6C924.61 1610.92 926.08 1608.9 927.8 1608.9C929.52 1608.9 931.4 1610.92 933 1613.6C934.6 1616.28 936.1 1621.1 937.38 1625C938.65 1628.9 939.63 1633 940.66 1637C941.69 1641 942.66 1645 943.57 1649C944.49 1653 945.34 1657 946.15 1661C946.96 1665 947.72 1669 948.44 1673C949.16 1677 949.84 1681 950.49 1685C951.14 1689 951.75 1693 952.34 1697C952.93 1701 953.49 1705 954.03 1709C954.58 1713 955.1 1717 955.61 1721C956.13 1725 956.63 1729 957.13 1733C957.63 1737 958.12 1741 958.62 1745C959.12 1749 959.61 1753 960.13 1757C960.64 1761 961.16 1765 961.7 1769C962.24 1773 962.8 1777 963.37 1781C963.94 1785 964.52 1789 965.11 1793C965.71 1797 966.32 1801 966.93 1805C967.55 1809 968.17 1813 968.8 1817C969.43 1821 970.07 1825 970.71 1829C971.35 1833 971.99 1837 972.63 1841C973.28 1845 973.92 1849 974.56 1853C975.2 1857 975.84 1861 976.47 1865C977.1 1869 977.73 1873 978.34 1877C978.95 1881 979.56 1885 980.16 1889C980.75 1893 981.31 1897 981.92 1901C982.53 1905 983.12 1909 983.81 1913C984.5 1917 985.2 1921 986.06 1925C986.91 1929 987.82 1933 988.91 1937C990.01 1941 991.06 1944.52 992.63 1949C994.19 1953.48 996.22 1959.53 998.3 1963.9C1000.38 1968.27 1002.47 1972 1005.1 1975.2C1007.73 1978.4 1010.7 1980.83 1014.1 1983.1C1017.5 1985.37 1021.18 1987.4 1025.5 1988.8C1029.82 1990.2 1035.18 1990.97 1040 1991.5C1044.82 1992.03 1044.4 1991.88 1054.4 1992C1064.4 1992.12 1013.63 1992.17 1100 1992.2C1186.37 1992.23 1493.83 1992.2 1572.6 1992.2" fill="none" stroke="#1a1a1a" stroke-width="2" stroke-linejoin="round"/>
<path d="M694.4 1991C695.92 1990.25 700.85 1989.88 703.5 1986.5C706.15 1983.12 708.42 1976.75 710.3 1970.7C712.18 1964.65 713.82 1955.65 714.8 1950.2C715.78 1944.75 715.62 1942.37 716.17 1938C716.72 1933.63 717.46 1928.67 718.09 1924C718.72 1919.33 719.34 1914.67 719.95 1910C720.56 1905.33 721.17 1900.67 721.76 1896C722.36 1891.33 722.94 1886.67 723.52 1882C724.1 1877.33 724.68 1872.67 725.25 1868C725.82 1863.33 726.38 1858.67 726.94 1854C727.5 1849.33 728.05 1844.67 728.6 1840C729.15 1835.33 729.7 1830.67 730.24 1826C730.79 1821.33 731.33 1816.67 731.87 1812C732.41 1807.33 732.95 1802.67 733.49 1798C734.02 1793.33 734.56 1788.67 735.1 1784C735.64 1779.33 736.18 1774.67 736.72 1770C737.26 1765.33 737.8 1760.67 738.35 1756C738.89 1751.33 739.44 1746.67 739.98 1742C740.53 1737.33 741.07 1732.67 741.62 1728C742.16 1723.33 742.71 1718.67 743.25 1714C743.8 1709.33 744.34 1704.67 744.88 1700C745.42 1695.33 745.96 1690.67 746.49 1686C747.03 1681.33 747.56 1676.67 748.09 1672C748.62 1667.33 749.14 1662.67 749.66 1658C750.18 1653.33 750.7 1648.67 751.21 1644C751.72 1639.33 752.23 1634.67 752.73 1630C753.24 1625.33 753.74 1620.67 754.23 1616C754.72 1611.33 755.21 1606.67 755.69 1602C756.17 1597.33 756.64 1592.67 757.11 1588C757.58 1583.33 758.04 1578.67 758.5 1574C758.95 1569.33 759.4 1564.67 759.84 1560C760.29 1555.33 760.72 1550.67 761.15 1546C761.57 1541.33 761.99 1536.67 762.4 1532C762.82 1527.33 763.22 1522.67 763.61 1518C764.01 1513.33 764.4 1508.67 764.79 1504C765.17 1499.33 765.55 1494.67 765.93 1490C766.31 1485.33 766.69 1480.67 767.07 1476C767.45 1471.33 767.83 1466.67 768.21 1462C768.59 1457.33 768.97 1452.67 769.36 1448C769.76 1443.33 770.15 1438.67 770.55 1434C770.95 1429.33 771.36 1424.67 771.78 1420C772.2 1415.33 772.63 1410.67 773.07 1406C773.51 1401.33 773.96 1396.67 774.43 1392C774.9 1387.33 775.38 1382.67 775.88 1378C776.38 1373.33 776.89 1368.67 777.42 1364C777.96 1359.33 778.48 1355 779.08 1350C779.68 1345 780.26 1337.85 781 1334C781.74 1330.15 782.67 1326.9 783.5 1326.9C784.33 1326.9 785.15 1330.15 786 1334C786.85 1337.85 787.93 1345 788.62 1350C789.32 1355 789.68 1359.33 790.18 1364C790.68 1368.67 791.16 1373.33 791.62 1378C792.08 1382.67 792.52 1387.33 792.95 1392C793.38 1396.67 793.78 1401.33 794.18 1406C794.57 1410.67 794.95 1415.33 795.31 1420C795.67 1424.67 796.02 1429.33 796.36 1434C796.69 1438.67 797.01 1443.33 797.32 1448C797.64 1452.67 797.93 1457.33 798.22 1462C798.51 1466.67 798.79 1471.33 799.06 1476C799.33 1480.67 799.59 1485.33 799.84 1490C800.09 1494.67 800.33 1499.33 800.57 1504C800.81 1508.67 801.04 1513.33 801.27 1518C801.49 1522.67 801.71 1527.33 801.93 1532C802.15 1536.67 802.36 1541.33 802.57 1546C802.78 1550.67 802.99 1555.33 803.19 1560C803.4 1564.67 803.61 1569.33 803.81 1574C804.02 1578.67 804.22 1583.33 804.42 1588C804.63 1592.67 804.83 1597.33 805.04 1602C805.24 1606.67 805.44 1611.33 805.65 1616C805.85 1620.67 806.05 1625.33 806.26 1630C806.47 1634.67 806.67 1639.33 806.88 1644C807.08 1648.67 807.29 1653.33 807.5 1658C807.71 1662.67 807.92 1667.33 808.13 1672C808.35 1676.67 808.56 1681.33 808.78 1686C808.99 1690.67 809.21 1695.33 809.43 1700C809.66 1704.67 809.88 1709.33 810.11 1714C810.34 1718.67 810.57 1723.33 810.8 1728C811.04 1732.67 811.28 1737.33 811.53 1742C811.78 1746.67 812.03 1751.33 812.29 1756C812.54 1760.67 812.81 1765.33 813.08 1770C813.35 1774.67 813.62 1779.33 813.91 1784C814.19 1788.67 814.49 1793.33 814.79 1798C815.09 1802.67 815.4 1807.33 815.72 1812C816.04 1816.67 816.38 1821.33 816.72 1826C817.07 1830.67 817.43 1835.33 817.81 1840C818.19 1844.67 818.58 1849.33 819 1854C819.41 1858.67 819.84 1863.33 820.3 1868C820.75 1872.67 821.23 1877.33 821.72 1882C822.22 1886.67 822.74 1891.33 823.29 1896C823.84 1900.67 824.42 1905.33 825.02 1910C825.62 1914.67 825.82 1916.53 826.92 1924C828.01 1931.47 830.25 1947.78 831.6 1954.8C832.95 1961.82 833.68 1962.7 835 1966.1C836.32 1969.5 837.98 1973 839.5 1975.2C841.02 1977.4 842.58 1978.5 844.1 1979.3C845.62 1980.1 847.08 1980 848.6 1980C850.12 1980 851.68 1979.15 853.2 1979.3C854.72 1979.45 855.43 1979.7 857.7 1980.9C859.97 1982.1 863.4 1984.73 866.8 1986.5C870.2 1988.27 873.57 1990.55 878.1 1991.5C882.63 1992.45 889.08 1992.28 894 1992.2C898.92 1992.12 903.83 1992.32 907.6 1991C911.37 1989.68 913.97 1986.18 916.6 1984.3C919.23 1982.42 920.93 1980.65 923.4 1979.7C925.87 1978.75 929.13 1978.52 931.4 1978.6C933.67 1978.68 934.92 1979.07 937 1980.2C939.08 1981.33 941.25 1983.67 943.9 1985.4C946.55 1987.13 949.88 1989.47 952.9 1990.6C955.92 1991.73 937.48 1991.93 962 1992.2C986.52 1992.47 998.23 1992.2 1100 1992.2C1201.77 1992.2 1493.83 1992.2 1572.6 1992.2L1572.6 1992.2L693.7 1992.2Z" fill="#F5E428" fill-opacity="0.4" stroke="none"/><path d="M694.4 1991C695.92 1990.25 700.85 1989.88 703.5 1986.5C706.15 1983.12 708.42 1976.75 710.3 1970.7C712.18 1964.65 713.82 1955.65 714.8 1950.2C715.78 1944.75 715.62 1942.37 716.17 1938C716.72 1933.63 717.46 1928.67 718.09 1924C718.72 1919.33 719.34 1914.67 719.95 1910C720.56 1905.33 721.17 1900.67 721.76 1896C722.36 1891.33 722.94 1886.67 723.52 1882C724.1 1877.33 724.68 1872.67 725.25 1868C725.82 1863.33 726.38 1858.67 726.94 1854C727.5 1849.33 728.05 1844.67 728.6 1840C729.15 1835.33 729.7 1830.67 730.24 1826C730.79 1821.33 731.33 1816.67 731.87 1812C732.41 1807.33 732.95 1802.67 733.49 1798C734.02 1793.33 734.56 1788.67 735.1 1784C735.64 1779.33 736.18 1774.67 736.72 1770C737.26 1765.33 737.8 1760.67 738.35 1756C738.89 1751.33 739.44 1746.67 739.98 1742C740.53 1737.33 741.07 1732.67 741.62 1728C742.16 1723.33 742.71 1718.67 743.25 1714C743.8 1709.33 744.34 1704.67 744.88 1700C745.42 1695.33 745.96 1690.67 746.49 1686C747.03 1681.33 747.56 1676.67 748.09 1672C748.62 1667.33 749.14 1662.67 749.66 1658C750.18 1653.33 750.7 1648.67 751.21 1644C751.72 1639.33 752.23 1634.67 752.73 1630C753.24 1625.33 753.74 1620.67 754.23 1616C754.72 1611.33 755.21 1606.67 755.69 1602C756.17 1597.33 756.64 1592.67 757.11 1588C757.58 1583.33 758.04 1578.67 758.5 1574C758.95 1569.33 759.4 1564.67 759.84 1560C760.29 1555.33 760.72 1550.67 761.15 1546C761.57 1541.33 761.99 1536.67 762.4 1532C762.82 1527.33 763.22 1522.67 763.61 1518C764.01 1513.33 764.4 1508.67 764.79 1504C765.17 1499.33 765.55 1494.67 765.93 1490C766.31 1485.33 766.69 1480.67 767.07 1476C767.45 1471.33 767.83 1466.67 768.21 1462C768.59 1457.33 768.97 1452.67 769.36 1448C769.76 1443.33 770.15 1438.67 770.55 1434C770.95 1429.33 771.36 1424.67 771.78 1420C772.2 1415.33 772.63 1410.67 773.07 1406C773.51 1401.33 773.96 1396.67 774.43 1392C774.9 1387.33 775.38 1382.67 775.88 1378C776.38 1373.33 776.89 1368.67 777.42 1364C777.96 1359.33 778.48 1355 779.08 1350C779.68 1345 780.26 1337.85 781 1334C781.74 1330.15 782.67 1326.9 783.5 1326.9C784.33 1326.9 785.15 1330.15 786 1334C786.85 1337.85 787.93 1345 788.62 1350C789.32 1355 789.68 1359.33 790.18 1364C790.68 1368.67 791.16 1373.33 791.62 1378C792.08 1382.67 792.52 1387.33 792.95 1392C793.38 1396.67 793.78 1401.33 794.18 1406C794.57 1410.67 794.95 1415.33 795.31 1420C795.67 1424.67 796.02 1429.33 796.36 1434C796.69 1438.67 797.01 1443.33 797.32 1448C797.64 1452.67 797.93 1457.33 798.22 1462C798.51 1466.67 798.79 1471.33 799.06 1476C799.33 1480.67 799.59 1485.33 799.84 1490C800.09 1494.67 800.33 1499.33 800.57 1504C800.81 1508.67 801.04 1513.33 801.27 1518C801.49 1522.67 801.71 1527.33 801.93 1532C802.15 1536.67 802.36 1541.33 802.57 1546C802.78 1550.67 802.99 1555.33 803.19 1560C803.4 1564.67 803.61 1569.33 803.81 1574C804.02 1578.67 804.22 1583.33 804.42 1588C804.63 1592.67 804.83 1597.33 805.04 1602C805.24 1606.67 805.44 1611.33 805.65 1616C805.85 1620.67 806.05 1625.33 806.26 1630C806.47 1634.67 806.67 1639.33 806.88 1644C807.08 1648.67 807.29 1653.33 807.5 1658C807.71 1662.67 807.92 1667.33 808.13 1672C808.35 1676.67 808.56 1681.33 808.78 1686C808.99 1690.67 809.21 1695.33 809.43 1700C809.66 1704.67 809.88 1709.33 810.11 1714C810.34 1718.67 810.57 1723.33 810.8 1728C811.04 1732.67 811.28 1737.33 811.53 1742C811.78 1746.67 812.03 1751.33 812.29 1756C812.54 1760.67 812.81 1765.33 813.08 1770C813.35 1774.67 813.62 1779.33 813.91 1784C814.19 1788.67 814.49 1793.33 814.79 1798C815.09 1802.67 815.4 1807.33 815.72 1812C816.04 1816.67 816.38 1821.33 816.72 1826C817.07 1830.67 817.43 1835.33 817.81 1840C818.19 1844.67 818.58 1849.33 819 1854C819.41 1858.67 819.84 1863.33 820.3 1868C820.75 1872.67 821.23 1877.33 821.72 1882C822.22 1886.67 822.74 1891.33 823.29 1896C823.84 1900.67 824.42 1905.33 825.02 1910C825.62 1914.67 825.82 1916.53 826.92 1924C828.01 1931.47 830.25 1947.78 831.6 1954.8C832.95 1961.82 833.68 1962.7 835 1966.1C836.32 1969.5 837.98 1973 839.5 1975.2C841.02 1977.4 842.58 1978.5 844.1 1979.3C845.62 1980.1 847.08 1980 848.6 1980C850.12 1980 851.68 1979.15 853.2 1979.3C854.72 1979.45 855.43 1979.7 857.7 1980.9C859.97 1982.1 863.4 1984.73 866.8 1986.5C870.2 1988.27 873.57 1990.55 878.1 1991.5C882.63 1992.45 889.08 1992.28 894 1992.2C898.92 1992.12 903.83 1992.32 907.6 1991C911.37 1989.68 913.97 1986.18 916.6 1984.3C919.23 1982.42 920.93 1980.65 923.4 1979.7C925.87 1978.75 929.13 1978.52 931.4 1978.6C933.67 1978.68 934.92 1979.07 937 1980.2C939.08 1981.33 941.25 1983.67 943.9 1985.4C946.55 1987.13 949.88 1989.47 952.9 1990.6C955.92 1991.73 937.48 1991.93 962 1992.2C986.52 1992.47 998.23 1992.2 1100 1992.2C1201.77 1992.2 1493.83 1992.2 1572.6 1992.2" fill="none" stroke="#1a1a1a" stroke-width="2" stroke-linejoin="round"/>
<path d="M650.1 1294.5V2026M648.9 2026H1616.2" fill="none" stroke="#252525" stroke-width="2.4"/>
<path d="M642.5 1313.5H650" stroke="#252525" stroke-width="2.3"/>
<text transform="translate(636.6 1321.4) scale(1.04 1)" text-anchor="end" font-size="22.6" fill="#4d4d4d">1.5</text>
<path d="M642.5 1539.8H650" stroke="#252525" stroke-width="2.3"/>
<text transform="translate(636.6 1547.7) scale(1.04 1)" text-anchor="end" font-size="22.6" fill="#4d4d4d">1.0</text>
<path d="M642.5 1766H650" stroke="#252525" stroke-width="2.3"/>
<text transform="translate(636.6 1773.9) scale(1.04 1)" text-anchor="end" font-size="22.6" fill="#4d4d4d">0.5</text>
<path d="M642.5 1992.3H650" stroke="#252525" stroke-width="2.3"/>
<text transform="translate(636.6 2000.2) scale(1.04 1)" text-anchor="end" font-size="22.6" fill="#4d4d4d">0.0</text>
<path d="M693.7 2026V2033.4" stroke="#252525" stroke-width="2.3"/>
<text transform="translate(693.7 2054.6) scale(1.04 1)" text-anchor="middle" font-size="22.6" fill="#4d4d4d">0.0</text>
<path d="M916.4 2026V2033.4" stroke="#252525" stroke-width="2.3"/>
<text transform="translate(916.4 2054.6) scale(1.04 1)" text-anchor="middle" font-size="22.6" fill="#4d4d4d">2.5</text>
<path d="M1139.2 2026V2033.4" stroke="#252525" stroke-width="2.3"/>
<text transform="translate(1139.2 2054.6) scale(1.04 1)" text-anchor="middle" font-size="22.6" fill="#4d4d4d">5.0</text>
<path d="M1362 2026V2033.4" stroke="#252525" stroke-width="2.3"/>
<text transform="translate(1362 2054.6) scale(1.04 1)" text-anchor="middle" font-size="22.6" fill="#4d4d4d">7.5</text>
<path d="M1584.8 2026V2033.4" stroke="#252525" stroke-width="2.3"/>
<text transform="translate(1584.8 2054.6) scale(1.04 1)" text-anchor="middle" font-size="22.6" fill="#4d4d4d">10.0</text>
<text transform="translate(1133.2 2088) scale(1.018 1)" text-anchor="middle" font-size="28.5" fill="#111">Total Progenitor Actvity (AU)</text>
<text transform="translate(590.6 1660.6) rotate(-90) scale(1 1.085)" text-anchor="middle" font-size="28.6" fill="#111">Density</text>
<text transform="translate(1659.6 1613.7) scale(1.035 1)" font-size="28.1" fill="#111">Rank</text>
<rect x="1660.3" y="1632.1" width="32.6" height="97.3" fill="#404040"/>
<rect x="1662.2" y="1633.9" width="28.9" height="27.4" fill="#AB98B8"/>
<text transform="translate(1707.3 1655.1) scale(1.09 1)" font-size="21.4" fill="#111">B100</text>
<rect x="1662.2" y="1666.5" width="28.9" height="28.4" fill="#B4D3D4"/>
<text transform="translate(1707.3 1689.3) scale(1.09 1)" font-size="21.4" fill="#111">M100</text>
<rect x="1662.2" y="1699.9" width="28.9" height="27.7" fill="#FBF5A9"/>
<text transform="translate(1707.3 1722.6) scale(1.09 1)" font-size="21.4" fill="#111">T100</text>
</g>
</svg>
</body>
</html>
